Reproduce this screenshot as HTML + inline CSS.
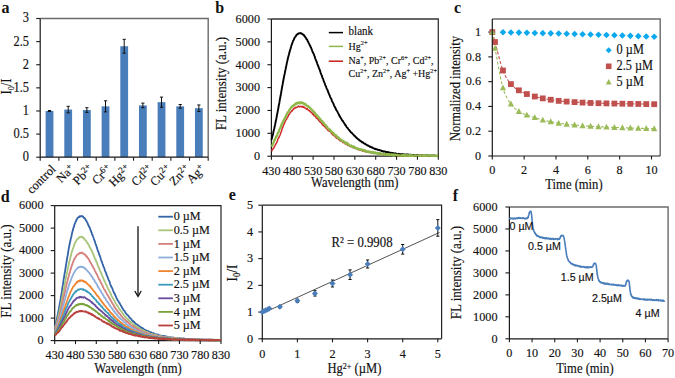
<!DOCTYPE html><html><head><meta charset="utf-8"><style>html,body{margin:0;padding:0;background:#fff;width:675px;height:378px;overflow:hidden}svg{display:block}</style></head><body><svg width="675" height="378" viewBox="0 0 675 378">
<rect width="675" height="378" fill="#fff"/>
<rect x="45.63" y="110.97" width="7.8" height="46.23" fill="#4a7ebb"/>
<line x1="49.53" y1="110.50" x2="49.53" y2="111.43" stroke="#111" stroke-width="1.0" />
<line x1="47.93" y1="110.50" x2="51.13" y2="110.50" stroke="#111" stroke-width="1.0" />
<line x1="47.93" y1="111.43" x2="51.13" y2="111.43" stroke="#111" stroke-width="1.0" />
<rect x="64.30" y="109.58" width="7.8" height="47.62" fill="#4a7ebb"/>
<line x1="68.20" y1="106.34" x2="68.20" y2="112.82" stroke="#111" stroke-width="1.0" />
<line x1="66.60" y1="106.34" x2="69.80" y2="106.34" stroke="#111" stroke-width="1.0" />
<line x1="66.60" y1="112.82" x2="69.80" y2="112.82" stroke="#111" stroke-width="1.0" />
<rect x="82.97" y="110.04" width="7.8" height="47.16" fill="#4a7ebb"/>
<line x1="86.87" y1="107.73" x2="86.87" y2="112.35" stroke="#111" stroke-width="1.0" />
<line x1="85.27" y1="107.73" x2="88.47" y2="107.73" stroke="#111" stroke-width="1.0" />
<line x1="85.27" y1="112.35" x2="88.47" y2="112.35" stroke="#111" stroke-width="1.0" />
<rect x="101.63" y="106.34" width="7.8" height="50.86" fill="#4a7ebb"/>
<line x1="105.53" y1="100.80" x2="105.53" y2="111.89" stroke="#111" stroke-width="1.0" />
<line x1="103.93" y1="100.80" x2="107.13" y2="100.80" stroke="#111" stroke-width="1.0" />
<line x1="103.93" y1="111.89" x2="107.13" y2="111.89" stroke="#111" stroke-width="1.0" />
<rect x="120.30" y="46.24" width="7.8" height="110.96" fill="#4a7ebb"/>
<line x1="124.20" y1="39.31" x2="124.20" y2="53.17" stroke="#111" stroke-width="1.0" />
<line x1="122.60" y1="39.31" x2="125.80" y2="39.31" stroke="#111" stroke-width="1.0" />
<line x1="122.60" y1="53.17" x2="125.80" y2="53.17" stroke="#111" stroke-width="1.0" />
<rect x="138.97" y="105.42" width="7.8" height="51.78" fill="#4a7ebb"/>
<line x1="142.87" y1="103.11" x2="142.87" y2="107.73" stroke="#111" stroke-width="1.0" />
<line x1="141.27" y1="103.11" x2="144.47" y2="103.11" stroke="#111" stroke-width="1.0" />
<line x1="141.27" y1="107.73" x2="144.47" y2="107.73" stroke="#111" stroke-width="1.0" />
<rect x="157.63" y="102.18" width="7.8" height="55.02" fill="#4a7ebb"/>
<line x1="161.53" y1="97.10" x2="161.53" y2="107.27" stroke="#111" stroke-width="1.0" />
<line x1="159.93" y1="97.10" x2="163.13" y2="97.10" stroke="#111" stroke-width="1.0" />
<line x1="159.93" y1="107.27" x2="163.13" y2="107.27" stroke="#111" stroke-width="1.0" />
<rect x="176.30" y="106.34" width="7.8" height="50.86" fill="#4a7ebb"/>
<line x1="180.20" y1="104.49" x2="180.20" y2="108.19" stroke="#111" stroke-width="1.0" />
<line x1="178.60" y1="104.49" x2="181.80" y2="104.49" stroke="#111" stroke-width="1.0" />
<line x1="178.60" y1="108.19" x2="181.80" y2="108.19" stroke="#111" stroke-width="1.0" />
<rect x="194.97" y="108.19" width="7.8" height="49.01" fill="#4a7ebb"/>
<line x1="198.87" y1="104.96" x2="198.87" y2="111.43" stroke="#111" stroke-width="1.0" />
<line x1="197.27" y1="104.96" x2="200.47" y2="104.96" stroke="#111" stroke-width="1.0" />
<line x1="197.27" y1="111.43" x2="200.47" y2="111.43" stroke="#111" stroke-width="1.0" />
<path d="M40.20,18.50 L208.20,18.50 L208.20,157.20" fill="none" stroke="#6b6b6b" stroke-width="1.4"/>
<path d="M40.20,18.50 L40.20,157.20 L208.20,157.20" fill="none" stroke="#1a1a1a" stroke-width="1.2"/>
<line x1="36.20" y1="157.20" x2="40.20" y2="157.20" stroke="#1a1a1a" stroke-width="1.1" />
<g transform="translate(0 161.20) scale(1 1.1) translate(0 -161.20)"><text x="29.00" y="161.20" font-family='"Liberation Serif", serif' font-size="12.4" text-anchor="end" fill="#111" stroke="#111" stroke-width="0.15" >0</text></g>
<line x1="36.20" y1="134.08" x2="40.20" y2="134.08" stroke="#1a1a1a" stroke-width="1.1" />
<g transform="translate(0 138.08) scale(1 1.1) translate(0 -138.08)"><text x="29.00" y="138.08" font-family='"Liberation Serif", serif' font-size="12.4" text-anchor="end" fill="#111" stroke="#111" stroke-width="0.15" >0.5</text></g>
<line x1="36.20" y1="110.97" x2="40.20" y2="110.97" stroke="#1a1a1a" stroke-width="1.1" />
<g transform="translate(0 114.97) scale(1 1.1) translate(0 -114.97)"><text x="29.00" y="114.97" font-family='"Liberation Serif", serif' font-size="12.4" text-anchor="end" fill="#111" stroke="#111" stroke-width="0.15" >1</text></g>
<line x1="36.20" y1="87.85" x2="40.20" y2="87.85" stroke="#1a1a1a" stroke-width="1.1" />
<g transform="translate(0 91.85) scale(1 1.1) translate(0 -91.85)"><text x="29.00" y="91.85" font-family='"Liberation Serif", serif' font-size="12.4" text-anchor="end" fill="#111" stroke="#111" stroke-width="0.15" >1.5</text></g>
<line x1="36.20" y1="64.73" x2="40.20" y2="64.73" stroke="#1a1a1a" stroke-width="1.1" />
<g transform="translate(0 68.73) scale(1 1.1) translate(0 -68.73)"><text x="29.00" y="68.73" font-family='"Liberation Serif", serif' font-size="12.4" text-anchor="end" fill="#111" stroke="#111" stroke-width="0.15" >2</text></g>
<line x1="36.20" y1="41.62" x2="40.20" y2="41.62" stroke="#1a1a1a" stroke-width="1.1" />
<g transform="translate(0 45.62) scale(1 1.1) translate(0 -45.62)"><text x="29.00" y="45.62" font-family='"Liberation Serif", serif' font-size="12.4" text-anchor="end" fill="#111" stroke="#111" stroke-width="0.15" >2.5</text></g>
<line x1="36.20" y1="18.50" x2="40.20" y2="18.50" stroke="#1a1a1a" stroke-width="1.1" />
<g transform="translate(0 22.50) scale(1 1.1) translate(0 -22.50)"><text x="29.00" y="22.50" font-family='"Liberation Serif", serif' font-size="12.4" text-anchor="end" fill="#111" stroke="#111" stroke-width="0.15" >3</text></g>
<line x1="40.20" y1="157.20" x2="40.20" y2="160.70" stroke="#1a1a1a" stroke-width="1.1" />
<line x1="58.87" y1="157.20" x2="58.87" y2="160.70" stroke="#1a1a1a" stroke-width="1.1" />
<line x1="77.53" y1="157.20" x2="77.53" y2="160.70" stroke="#1a1a1a" stroke-width="1.1" />
<line x1="96.20" y1="157.20" x2="96.20" y2="160.70" stroke="#1a1a1a" stroke-width="1.1" />
<line x1="114.87" y1="157.20" x2="114.87" y2="160.70" stroke="#1a1a1a" stroke-width="1.1" />
<line x1="133.53" y1="157.20" x2="133.53" y2="160.70" stroke="#1a1a1a" stroke-width="1.1" />
<line x1="152.20" y1="157.20" x2="152.20" y2="160.70" stroke="#1a1a1a" stroke-width="1.1" />
<line x1="170.87" y1="157.20" x2="170.87" y2="160.70" stroke="#1a1a1a" stroke-width="1.1" />
<line x1="189.53" y1="157.20" x2="189.53" y2="160.70" stroke="#1a1a1a" stroke-width="1.1" />
<line x1="208.20" y1="157.20" x2="208.20" y2="160.70" stroke="#1a1a1a" stroke-width="1.1" />
<text x="56.53" y="169.70" font-family='"Liberation Serif", serif' font-size="12.4" text-anchor="end" fill="#111" stroke="#111" stroke-width="0.15" transform="rotate(-45 56.53 169.70)">control</text>
<text x="75.20" y="169.70" font-family='"Liberation Serif", serif' font-size="12.4" text-anchor="end" fill="#111" stroke="#111" stroke-width="0.15" transform="rotate(-45 75.20 169.70)">Na<tspan font-size="9" dy="-3.8">+</tspan><tspan font-size="1" dy="3.8">&#8203;</tspan></text>
<text x="93.87" y="169.70" font-family='"Liberation Serif", serif' font-size="12.4" text-anchor="end" fill="#111" stroke="#111" stroke-width="0.15" transform="rotate(-45 93.87 169.70)">Pb<tspan font-size="9" dy="-3.8">2+</tspan><tspan font-size="1" dy="3.8">&#8203;</tspan></text>
<text x="112.53" y="169.70" font-family='"Liberation Serif", serif' font-size="12.4" text-anchor="end" fill="#111" stroke="#111" stroke-width="0.15" transform="rotate(-45 112.53 169.70)">Cr<tspan font-size="9" dy="-3.8">6+</tspan><tspan font-size="1" dy="3.8">&#8203;</tspan></text>
<text x="131.20" y="169.70" font-family='"Liberation Serif", serif' font-size="12.4" text-anchor="end" fill="#111" stroke="#111" stroke-width="0.15" transform="rotate(-45 131.20 169.70)">Hg<tspan font-size="9" dy="-3.8">2+</tspan><tspan font-size="1" dy="3.8">&#8203;</tspan></text>
<text x="153.37" y="169.70" font-family='"Liberation Serif", serif' font-size="12.4" text-anchor="end" fill="#111" stroke="#111" stroke-width="0.15" transform="rotate(-45 153.37 169.70)">Cd<tspan font-size="9" dy="-3.8">2+</tspan><tspan font-size="1" dy="3.8">&#8203;</tspan></text>
<text x="172.03" y="169.70" font-family='"Liberation Serif", serif' font-size="12.4" text-anchor="end" fill="#111" stroke="#111" stroke-width="0.15" transform="rotate(-45 172.03 169.70)">Cu<tspan font-size="9" dy="-3.8">2+</tspan><tspan font-size="1" dy="3.8">&#8203;</tspan></text>
<text x="190.70" y="169.70" font-family='"Liberation Serif", serif' font-size="12.4" text-anchor="end" fill="#111" stroke="#111" stroke-width="0.15" transform="rotate(-45 190.70 169.70)">Zn<tspan font-size="9" dy="-3.8">2+</tspan><tspan font-size="1" dy="3.8">&#8203;</tspan></text>
<text x="205.87" y="169.70" font-family='"Liberation Serif", serif' font-size="12.4" text-anchor="end" fill="#111" stroke="#111" stroke-width="0.15" transform="rotate(-45 205.87 169.70)">Ag<tspan font-size="9" dy="-3.8">+</tspan><tspan font-size="1" dy="3.8">&#8203;</tspan></text>
<g transform="translate(11.20 0) scale(1.1 1) translate(-11.20 0)"><text x="11.20" y="86.50" font-family='"Liberation Serif", serif' font-size="12.6" text-anchor="middle" fill="#111" stroke="#111" stroke-width="0.15" transform="rotate(-90 11.2 86.5)">I<tspan font-size="8" dy="2.5">0</tspan><tspan dy="-2.5">/I</tspan></text></g>
<text x="1.60" y="12.60" font-family='"Liberation Serif", serif' font-size="16" text-anchor="start" fill="#111" font-weight="bold">a</text>
<path d="M271.40,19.00 L438.30,19.00 L438.30,156.20" fill="none" stroke="#333" stroke-width="1.3"/>
<path d="M271.40,19.00 L271.40,156.20 L438.30,156.20" fill="none" stroke="#1a1a1a" stroke-width="1.2"/>
<g>
<path d="M271.40,140.03 L271.82,138.48 L272.23,136.78 L272.65,135.61 L273.07,133.78 L273.49,131.55 L273.90,129.88 L274.32,128.17 L274.74,126.27 L275.16,124.39 L275.57,122.28 L275.99,120.17 L276.41,118.39 L276.82,115.86 L277.24,113.79 L277.66,111.59 L278.08,109.57 L278.49,107.28 L278.91,104.71 L279.33,102.93 L279.75,100.05 L280.16,97.97 L280.58,95.74 L281.00,93.53 L281.41,91.06 L281.83,88.69 L282.25,86.28 L282.67,84.14 L283.08,81.76 L283.50,79.50 L283.92,77.43 L284.33,75.17 L284.75,73.41 L285.17,70.92 L285.59,69.38 L286.00,67.14 L286.42,65.25 L286.84,62.92 L287.26,61.22 L287.67,59.33 L288.09,57.44 L288.51,55.98 L288.92,54.46 L289.34,52.66 L289.76,51.39 L290.18,49.63 L290.59,48.60 L291.01,47.06 L291.43,45.37 L291.85,44.44 L292.26,43.15 L292.68,42.11 L293.10,40.81 L293.51,40.19 L293.93,39.42 L294.35,38.08 L294.77,37.60 L295.18,36.98 L295.60,36.61 L296.02,35.60 L296.44,35.09 L296.85,34.60 L297.27,34.18 L297.69,34.32 L298.10,33.59 L298.52,33.67 L298.94,33.27 L299.36,33.32 L299.77,33.27 L300.19,33.32 L300.61,33.06 L301.02,33.31 L301.44,33.64 L301.86,33.51 L302.28,34.19 L302.69,34.15 L303.11,34.75 L303.53,34.79 L303.95,35.21 L304.36,36.04 L304.78,36.18 L305.20,37.18 L305.61,37.56 L306.03,37.99 L306.45,39.08 L306.87,39.34 L307.28,40.06 L307.70,41.27 L308.12,41.60 L308.54,42.71 L308.95,43.49 L309.37,44.00 L309.79,45.51 L310.20,45.81 L310.62,47.04 L311.04,47.64 L311.46,48.72 L311.87,49.76 L312.29,51.01 L312.71,52.06 L313.12,52.83 L313.54,53.71 L313.96,54.69 L314.38,55.74 L314.79,56.82 L315.21,58.50 L315.63,59.48 L316.05,60.23 L316.46,61.50 L316.88,62.46 L317.30,63.81 L317.71,64.77 L318.13,65.97 L318.55,66.96 L318.97,68.32 L319.38,68.92 L319.80,70.11 L320.22,71.36 L320.64,72.87 L321.05,73.83 L321.47,74.84 L321.89,75.70 L322.30,77.30 L322.72,78.36 L323.14,78.87 L323.56,80.57 L323.97,81.50 L324.39,82.56 L324.81,83.47 L325.23,84.81 L325.64,85.92 L326.06,86.57 L326.48,88.05 L326.89,88.89 L327.31,89.64 L327.73,90.65 L328.15,91.92 L328.56,92.88 L328.98,93.93 L329.40,94.90 L329.81,95.82 L330.23,97.11 L330.65,97.83 L331.07,98.43 L331.48,99.40 L331.90,100.76 L332.32,101.78 L332.74,102.32 L333.15,103.13 L333.57,104.06 L333.99,105.37 L334.40,106.31 L334.82,106.64 L335.24,107.95 L335.66,108.25 L336.07,109.66 L336.49,110.41 L336.91,110.83 L337.33,111.44 L337.74,112.32 L338.16,113.12 L338.58,113.92 L338.99,114.64 L339.41,115.86 L339.83,116.24 L340.25,117.18 L340.66,117.89 L341.08,118.24 L341.50,119.19 L341.92,119.88 L342.33,120.73 L342.75,120.78 L343.17,121.58 L343.58,122.26 L344.00,122.90 L344.42,123.65 L344.84,123.97 L345.25,125.12 L345.67,125.15 L346.09,126.05 L346.50,126.80 L346.92,127.35 L347.34,127.82 L347.76,128.11 L348.17,128.91 L348.59,129.35 L349.01,129.75 L349.43,130.51 L349.84,130.83 L350.26,131.53 L350.68,131.91 L351.09,132.50 L351.51,132.74 L351.93,133.20 L352.35,133.41 L352.76,134.08 L353.18,134.26 L353.60,134.77 L354.02,135.37 L354.43,135.94 L354.85,136.04 L355.27,136.31 L355.68,137.15 L356.10,137.54 L356.52,137.45 L356.94,138.23 L357.35,138.55 L357.77,138.62 L358.19,139.41 L358.61,139.61 L359.02,139.75 L359.44,140.47 L359.86,140.50 L360.27,140.97 L360.69,140.77 L361.11,141.35 L361.53,141.84 L361.94,142.24 L362.36,141.98 L362.78,142.24 L363.19,142.63 L363.61,143.23 L364.03,143.25 L364.45,143.78 L364.86,143.56 L365.28,144.10 L365.70,144.38 L366.12,144.46 L366.53,144.80 L366.95,144.98 L367.37,145.53 L367.78,145.42 L368.20,145.45 L368.62,146.08 L369.04,146.11 L369.45,146.28 L369.87,146.71 L370.29,147.08 L370.71,146.80 L371.12,147.00 L371.54,147.51 L371.96,147.28 L372.37,147.71 L372.79,147.70 L373.21,148.17 L373.63,148.20 L374.04,148.49 L374.46,148.82 L374.88,148.99 L375.30,148.67 L375.71,149.23 L376.13,149.22 L376.55,149.10 L376.96,149.39 L377.38,149.67 L377.80,149.71 L378.22,150.07 L378.63,149.81 L379.05,149.92 L379.47,149.95 L379.88,150.34 L380.30,150.41 L380.72,150.49 L381.14,150.49 L381.55,150.78 L381.97,151.30 L382.39,150.96 L382.81,151.16 L383.22,151.49 L383.64,151.70 L384.06,151.38 L384.47,151.54 L384.89,151.41 L385.31,151.57 L385.73,152.17 L386.14,152.14 L386.56,152.02 L386.98,152.25 L387.40,152.08 L387.81,152.05 L388.23,152.09 L388.65,152.30 L389.06,152.33 L389.48,152.37 L389.90,152.52 L390.32,153.03 L390.73,153.13 L391.15,153.14 L391.57,152.84 L391.99,153.10 L392.40,153.24 L392.82,153.00 L393.24,153.46 L393.65,153.15 L394.07,153.45 L394.49,153.35 L394.91,153.82 L395.32,153.34 L395.74,153.62 L396.16,153.84 L396.57,153.76 L396.99,154.08 L397.41,154.03 L397.83,154.15 L398.24,153.94 L398.66,153.81 L399.08,154.06 L399.50,154.37 L399.91,154.28 L400.33,154.15 L400.75,154.09 L401.16,154.48 L401.58,154.10 L402.00,154.10 L402.42,154.04 L402.83,154.55 L403.25,154.20 L403.67,154.56 L404.09,154.37 L404.50,154.46 L404.92,154.88 L405.34,154.82 L405.75,154.93 L406.17,154.39 L406.59,154.37 L407.01,154.52 L407.42,154.45 L407.84,154.92 L408.26,154.51 L408.68,154.99 L409.09,155.14 L409.51,155.01 L409.93,154.63 L410.34,154.79 L410.76,154.75 L411.18,154.71 L411.60,155.09 L412.01,154.86 L412.43,155.24 L412.85,154.95 L413.26,154.98 L413.68,155.16 L414.10,155.02 L414.52,155.21 L414.93,155.09 L415.35,155.41 L415.77,155.15 L416.19,155.02 L416.60,155.02 L417.02,155.42 L417.44,155.62 L417.85,155.03 L418.27,155.32 L418.69,155.67 L419.11,155.58 L419.52,155.65 L419.94,155.37 L420.36,155.63 L420.78,155.65 L421.19,155.53 L421.61,155.42 L422.03,155.48 L422.44,155.74 L422.86,155.31 L423.28,155.72 L423.70,155.76 L424.11,155.86 L424.53,155.78 L424.95,155.52 L425.37,155.43 L425.78,155.73 L426.20,155.68 L426.62,155.42 L427.03,155.44 L427.45,155.65 L427.87,155.53 L428.29,155.80 L428.70,155.94 L429.12,155.55 L429.54,155.62 L429.96,155.93 L430.37,155.40 L430.79,155.80 L431.21,155.96 L431.62,155.48 L432.04,155.52 L432.46,155.71 L432.88,155.77 L433.29,155.50 L433.71,155.50 L434.13,155.63 L434.54,155.49 L434.96,155.73 L435.38,156.06 L435.80,155.70 L436.21,155.84 L436.63,155.84 L437.05,156.01 L437.47,155.84 L437.88,155.72 L438.30,156.08" fill="none" stroke="#000" stroke-width="1.9" stroke-linejoin="round"/>
<path d="M271.40,151.20 L271.82,150.98 L272.23,149.82 L272.65,148.93 L273.07,149.02 L273.49,148.45 L273.90,147.54 L274.32,147.04 L274.74,146.39 L275.16,144.95 L275.57,144.84 L275.99,143.44 L276.41,143.37 L276.82,142.03 L277.24,141.69 L277.66,139.95 L278.08,138.76 L278.49,137.79 L278.91,137.71 L279.33,136.42 L279.75,135.83 L280.16,134.73 L280.58,133.49 L281.00,132.22 L281.41,131.56 L281.83,129.80 L282.25,128.36 L282.67,128.01 L283.08,126.30 L283.50,125.46 L283.92,124.28 L284.33,123.84 L284.75,122.43 L285.17,121.28 L285.59,120.72 L286.00,119.73 L286.42,119.39 L286.84,118.88 L287.26,117.54 L287.67,116.95 L288.09,116.46 L288.51,115.25 L288.92,114.40 L289.34,114.48 L289.76,113.75 L290.18,112.67 L290.59,112.34 L291.01,111.84 L291.43,111.41 L291.85,110.66 L292.26,110.89 L292.68,110.13 L293.10,109.11 L293.51,109.01 L293.93,108.33 L294.35,108.60 L294.77,108.37 L295.18,107.35 L295.60,107.82 L296.02,107.62 L296.44,107.45 L296.85,107.46 L297.27,107.16 L297.69,106.65 L298.10,106.18 L298.52,106.12 L298.94,106.66 L299.36,106.86 L299.77,106.37 L300.19,106.30 L300.61,106.68 L301.02,106.83 L301.44,106.86 L301.86,106.37 L302.28,107.08 L302.69,106.50 L303.11,107.29 L303.53,106.67 L303.95,106.75 L304.36,107.60 L304.78,107.80 L305.20,108.15 L305.61,108.54 L306.03,108.56 L306.45,109.14 L306.87,108.43 L307.28,108.68 L307.70,109.70 L308.12,109.86 L308.54,110.38 L308.95,110.68 L309.37,110.53 L309.79,111.25 L310.20,111.64 L310.62,111.57 L311.04,112.22 L311.46,112.32 L311.87,112.58 L312.29,113.90 L312.71,114.26 L313.12,113.79 L313.54,114.33 L313.96,115.74 L314.38,115.27 L314.79,115.83 L315.21,116.17 L315.63,116.87 L316.05,117.76 L316.46,118.00 L316.88,118.39 L317.30,118.86 L317.71,118.60 L318.13,119.18 L318.55,120.29 L318.97,120.76 L319.38,120.95 L319.80,121.59 L320.22,122.11 L320.64,122.36 L321.05,122.72 L321.47,122.65 L321.89,123.73 L322.30,124.60 L322.72,124.16 L323.14,125.50 L323.56,125.57 L323.97,126.03 L324.39,126.26 L324.81,126.83 L325.23,126.95 L325.64,127.85 L326.06,128.16 L326.48,128.30 L326.89,128.79 L327.31,129.63 L327.73,129.59 L328.15,130.61 L328.56,130.79 L328.98,130.90 L329.40,131.31 L329.81,131.37 L330.23,131.67 L330.65,132.32 L331.07,132.48 L331.48,133.32 L331.90,133.91 L332.32,133.67 L332.74,134.89 L333.15,134.95 L333.57,134.76 L333.99,135.75 L334.40,135.83 L334.82,136.05 L335.24,136.61 L335.66,136.33 L336.07,137.69 L336.49,137.25 L336.91,138.36 L337.33,138.21 L337.74,138.05 L338.16,139.01 L338.58,139.03 L338.99,139.77 L339.41,140.20 L339.83,140.57 L340.25,140.29 L340.66,141.08 L341.08,140.92 L341.50,141.12 L341.92,140.89 L342.33,141.68 L342.75,142.21 L343.17,142.66 L343.58,142.36 L344.00,142.45 L344.42,142.60 L344.84,143.59 L345.25,143.57 L345.67,144.08 L346.09,144.29 L346.50,143.70 L346.92,143.95 L347.34,144.98 L347.76,145.40 L348.17,145.22 L348.59,144.92 L349.01,145.62 L349.43,146.08 L349.84,146.18 L350.26,146.29 L350.68,146.63 L351.09,146.42 L351.51,146.46 L351.93,146.68 L352.35,147.42 L352.76,147.35 L353.18,147.30 L353.60,147.65 L354.02,147.42 L354.43,147.93 L354.85,148.34 L355.27,148.03 L355.68,148.03 L356.10,148.73 L356.52,148.72 L356.94,148.60 L357.35,148.73 L357.77,149.59 L358.19,148.88 L358.61,149.37 L359.02,149.62 L359.44,149.59 L359.86,150.16 L360.27,149.65 L360.69,150.30 L361.11,149.76 L361.53,149.76 L361.94,150.15 L362.36,151.11 L362.78,150.40 L363.19,150.80 L363.61,151.17 L364.03,150.93 L364.45,151.55 L364.86,151.41 L365.28,151.68 L365.70,151.75 L366.12,151.42 L366.53,152.11 L366.95,152.04 L367.37,152.17 L367.78,151.83 L368.20,151.54 L368.62,152.17 L369.04,152.39 L369.45,151.72 L369.87,151.79 L370.29,152.46 L370.71,151.93 L371.12,152.46 L371.54,152.96 L371.96,152.13 L372.37,152.49 L372.79,153.29 L373.21,152.61 L373.63,153.02 L374.04,153.23 L374.46,153.48 L374.88,153.43 L375.30,153.37 L375.71,153.01 L376.13,153.14 L376.55,153.06 L376.96,153.42 L377.38,153.65 L377.80,153.96 L378.22,153.96 L378.63,153.68 L379.05,153.34 L379.47,153.94 L379.88,153.78 L380.30,153.41 L380.72,154.33 L381.14,153.71 L381.55,153.76 L381.97,154.03 L382.39,154.00 L382.81,154.58 L383.22,153.77 L383.64,154.81 L384.06,153.96 L384.47,154.38 L384.89,154.24 L385.31,154.18 L385.73,154.69 L386.14,154.86 L386.56,154.50 L386.98,154.01 L387.40,154.24 L387.81,154.27 L388.23,154.46 L388.65,155.00 L389.06,154.37 L389.48,155.06 L389.90,155.24 L390.32,154.72 L390.73,154.73 L391.15,155.41 L391.57,155.08 L391.99,154.84 L392.40,154.65 L392.82,154.79 L393.24,154.97 L393.65,155.24 L394.07,154.71 L394.49,155.53 L394.91,155.00 L395.32,155.19 L395.74,154.57 L396.16,155.32 L396.57,155.62 L396.99,155.23 L397.41,154.74 L397.83,155.81 L398.24,155.74 L398.66,154.87 L399.08,155.76 L399.50,155.55 L399.91,155.57 L400.33,155.78 L400.75,155.60 L401.16,155.60 L401.58,155.77 L402.00,155.15 L402.42,155.14 L402.83,155.31 L403.25,155.28 L403.67,154.96 L404.09,155.76 L404.50,155.03 L404.92,155.29 L405.34,155.67 L405.75,155.45 L406.17,155.73 L406.59,155.87 L407.01,155.88 L407.42,155.44 L407.84,155.10 L408.26,155.95 L408.68,156.00 L409.09,155.57 L409.51,155.97 L409.93,156.03 L410.34,155.69 L410.76,155.27 L411.18,155.89 L411.60,155.73 L412.01,155.45 L412.43,155.49 L412.85,156.01 L413.26,155.80 L413.68,155.61 L414.10,155.71 L414.52,155.82 L414.93,155.80 L415.35,155.91 L415.77,155.65 L416.19,155.35 L416.60,155.38 L417.02,155.59 L417.44,155.71 L417.85,155.40 L418.27,155.61 L418.69,155.66 L419.11,155.41 L419.52,156.01 L419.94,155.51 L420.36,155.89 L420.78,155.41 L421.19,155.61 L421.61,155.92 L422.03,155.38 L422.44,155.64 L422.86,156.01 L423.28,155.44 L423.70,155.48 L424.11,156.01 L424.53,155.82 L424.95,155.85 L425.37,155.67 L425.78,155.47 L426.20,155.61 L426.62,156.02 L427.03,155.60 L427.45,155.52 L427.87,155.92 L428.29,156.08 L428.70,155.54 L429.12,155.61 L429.54,155.63 L429.96,155.77 L430.37,155.64 L430.79,155.94 L431.21,155.81 L431.62,156.06 L432.04,155.94 L432.46,155.61 L432.88,155.95 L433.29,155.96 L433.71,155.91 L434.13,155.97 L434.54,155.70 L434.96,155.71 L435.38,156.07 L435.80,155.67 L436.21,155.92 L436.63,155.67 L437.05,155.93 L437.47,156.13 L437.88,155.87 L438.30,155.88" fill="none" stroke="#d02a2a" stroke-width="1.5" stroke-linejoin="round"/>
<path d="M271.40,146.41 L271.82,146.03 L272.23,145.38 L272.65,144.56 L273.07,143.69 L273.49,142.58 L273.90,141.41 L274.32,140.43 L274.74,140.26 L275.16,138.97 L275.57,138.10 L275.99,136.91 L276.41,136.15 L276.82,136.14 L277.24,135.20 L277.66,133.42 L278.08,132.68 L278.49,132.25 L278.91,131.50 L279.33,129.52 L279.75,128.84 L280.16,127.99 L280.58,126.96 L281.00,126.60 L281.41,124.78 L281.83,124.29 L282.25,123.07 L282.67,122.54 L283.08,122.08 L283.50,120.44 L283.92,120.16 L284.33,119.44 L284.75,118.28 L285.17,117.36 L285.59,116.79 L286.00,115.49 L286.42,115.25 L286.84,113.78 L287.26,113.43 L287.67,112.31 L288.09,112.47 L288.51,111.65 L288.92,110.99 L289.34,110.05 L289.76,109.44 L290.18,108.92 L290.59,108.48 L291.01,107.60 L291.43,107.16 L291.85,106.61 L292.26,106.58 L292.68,105.90 L293.10,106.02 L293.51,105.30 L293.93,105.60 L294.35,105.05 L294.77,104.46 L295.18,104.38 L295.60,103.53 L296.02,104.23 L296.44,103.48 L296.85,102.96 L297.27,103.37 L297.69,102.91 L298.10,102.49 L298.52,103.00 L298.94,102.69 L299.36,102.67 L299.77,103.26 L300.19,103.09 L300.61,102.32 L301.02,103.07 L301.44,102.68 L301.86,102.64 L302.28,102.47 L302.69,103.42 L303.11,102.91 L303.53,103.40 L303.95,103.76 L304.36,104.39 L304.78,103.72 L305.20,104.12 L305.61,104.06 L306.03,105.10 L306.45,105.53 L306.87,105.93 L307.28,105.90 L307.70,105.81 L308.12,106.05 L308.54,107.06 L308.95,107.23 L309.37,107.09 L309.79,107.42 L310.20,108.46 L310.62,108.42 L311.04,109.26 L311.46,109.40 L311.87,109.51 L312.29,110.21 L312.71,111.17 L313.12,111.30 L313.54,111.28 L313.96,111.75 L314.38,113.01 L314.79,112.71 L315.21,113.26 L315.63,114.37 L316.05,114.84 L316.46,114.90 L316.88,115.63 L317.30,115.48 L317.71,116.56 L318.13,116.98 L318.55,117.38 L318.97,117.33 L319.38,118.07 L319.80,119.20 L320.22,118.97 L320.64,120.15 L321.05,120.28 L321.47,120.69 L321.89,121.10 L322.30,121.20 L322.72,122.15 L323.14,122.53 L323.56,122.78 L323.97,123.32 L324.39,124.03 L324.81,124.46 L325.23,125.03 L325.64,125.03 L326.06,126.01 L326.48,126.57 L326.89,127.27 L327.31,127.03 L327.73,128.26 L328.15,128.78 L328.56,128.67 L328.98,129.18 L329.40,129.38 L329.81,129.59 L330.23,129.92 L330.65,131.27 L331.07,131.69 L331.48,131.30 L331.90,131.97 L332.32,132.31 L332.74,132.52 L333.15,133.11 L333.57,133.79 L333.99,133.41 L334.40,134.92 L334.82,135.04 L335.24,135.43 L335.66,135.15 L336.07,135.27 L336.49,135.71 L336.91,136.85 L337.33,136.96 L337.74,137.72 L338.16,137.47 L338.58,137.49 L338.99,138.26 L339.41,138.69 L339.83,138.84 L340.25,139.45 L340.66,139.72 L341.08,140.27 L341.50,139.93 L341.92,140.53 L342.33,141.02 L342.75,141.48 L343.17,140.90 L343.58,141.09 L344.00,141.71 L344.42,141.81 L344.84,142.39 L345.25,143.03 L345.67,142.86 L346.09,142.53 L346.50,143.04 L346.92,143.87 L347.34,143.28 L347.76,144.47 L348.17,143.82 L348.59,144.60 L349.01,145.16 L349.43,145.04 L349.84,145.63 L350.26,145.91 L350.68,145.88 L351.09,145.42 L351.51,146.02 L351.93,146.43 L352.35,146.83 L352.76,146.47 L353.18,146.26 L353.60,147.44 L354.02,147.67 L354.43,147.07 L354.85,147.33 L355.27,147.29 L355.68,147.96 L356.10,148.38 L356.52,148.49 L356.94,148.52 L357.35,148.42 L357.77,149.02 L358.19,148.56 L358.61,148.73 L359.02,149.19 L359.44,149.08 L359.86,149.32 L360.27,149.28 L360.69,149.60 L361.11,149.80 L361.53,149.42 L361.94,149.66 L362.36,149.91 L362.78,149.76 L363.19,150.76 L363.61,150.64 L364.03,150.51 L364.45,150.80 L364.86,150.28 L365.28,150.62 L365.70,150.81 L366.12,150.88 L366.53,151.74 L366.95,151.24 L367.37,151.50 L367.78,151.87 L368.20,151.41 L368.62,152.13 L369.04,151.98 L369.45,151.69 L369.87,151.75 L370.29,152.34 L370.71,152.67 L371.12,152.63 L371.54,152.38 L371.96,152.30 L372.37,152.02 L372.79,152.98 L373.21,152.13 L373.63,153.18 L374.04,152.57 L374.46,153.02 L374.88,153.11 L375.30,152.50 L375.71,152.93 L376.13,153.36 L376.55,153.03 L376.96,153.28 L377.38,153.67 L377.80,152.84 L378.22,153.73 L378.63,153.98 L379.05,153.47 L379.47,153.47 L379.88,153.27 L380.30,153.24 L380.72,154.19 L381.14,154.22 L381.55,154.33 L381.97,154.36 L382.39,154.26 L382.81,154.08 L383.22,154.16 L383.64,154.29 L384.06,153.73 L384.47,154.56 L384.89,154.44 L385.31,153.91 L385.73,154.51 L386.14,153.93 L386.56,154.57 L386.98,154.74 L387.40,154.89 L387.81,154.36 L388.23,154.54 L388.65,154.93 L389.06,154.15 L389.48,154.93 L389.90,155.01 L390.32,154.56 L390.73,154.65 L391.15,154.22 L391.57,154.98 L391.99,154.49 L392.40,155.34 L392.82,155.00 L393.24,154.58 L393.65,155.46 L394.07,154.51 L394.49,155.22 L394.91,155.08 L395.32,154.63 L395.74,154.83 L396.16,154.88 L396.57,155.13 L396.99,155.36 L397.41,154.69 L397.83,155.44 L398.24,155.19 L398.66,155.41 L399.08,155.43 L399.50,155.47 L399.91,155.48 L400.33,155.67 L400.75,155.74 L401.16,155.31 L401.58,155.31 L402.00,155.59 L402.42,154.94 L402.83,155.50 L403.25,155.34 L403.67,154.87 L404.09,155.87 L404.50,155.50 L404.92,155.74 L405.34,155.16 L405.75,155.61 L406.17,155.68 L406.59,155.64 L407.01,155.16 L407.42,155.63 L407.84,155.36 L408.26,155.76 L408.68,155.60 L409.09,155.44 L409.51,155.17 L409.93,155.93 L410.34,155.85 L410.76,155.23 L411.18,155.44 L411.60,155.16 L412.01,155.79 L412.43,155.71 L412.85,155.85 L413.26,155.56 L413.68,155.62 L414.10,155.63 L414.52,155.55 L414.93,155.38 L415.35,155.45 L415.77,155.49 L416.19,155.73 L416.60,155.77 L417.02,155.65 L417.44,155.55 L417.85,155.80 L418.27,155.46 L418.69,155.82 L419.11,155.74 L419.52,155.39 L419.94,155.69 L420.36,155.86 L420.78,155.62 L421.19,155.70 L421.61,155.61 L422.03,155.53 L422.44,155.79 L422.86,155.62 L423.28,155.69 L423.70,155.87 L424.11,155.52 L424.53,155.87 L424.95,155.69 L425.37,155.78 L425.78,155.85 L426.20,155.64 L426.62,155.65 L427.03,155.43 L427.45,155.47 L427.87,155.75 L428.29,155.49 L428.70,155.52 L429.12,155.43 L429.54,155.60 L429.96,155.50 L430.37,155.59 L430.79,155.67 L431.21,155.78 L431.62,155.51 L432.04,155.68 L432.46,155.80 L432.88,155.67 L433.29,155.57 L433.71,155.87 L434.13,155.72 L434.54,155.81 L434.96,155.61 L435.38,155.57 L435.80,155.73 L436.21,155.72 L436.63,155.83 L437.05,155.68 L437.47,155.51 L437.88,155.68 L438.30,155.58" fill="none" stroke="#8fb84a" stroke-width="2.3" stroke-linejoin="round"/>
<line x1="267.40" y1="156.20" x2="271.40" y2="156.20" stroke="#1a1a1a" stroke-width="1.1" />
<g transform="translate(0 160.00) scale(1 1.1) translate(0 -160.00)"><text x="260.00" y="160.00" font-family='"Liberation Serif", serif' font-size="12.2" text-anchor="end" fill="#111" stroke="#111" stroke-width="0.15" >0</text></g>
<line x1="267.40" y1="133.33" x2="271.40" y2="133.33" stroke="#1a1a1a" stroke-width="1.1" />
<g transform="translate(0 137.13) scale(1 1.1) translate(0 -137.13)"><text x="260.00" y="137.13" font-family='"Liberation Serif", serif' font-size="12.2" text-anchor="end" fill="#111" stroke="#111" stroke-width="0.15" >1000</text></g>
<line x1="267.40" y1="110.47" x2="271.40" y2="110.47" stroke="#1a1a1a" stroke-width="1.1" />
<g transform="translate(0 114.27) scale(1 1.1) translate(0 -114.27)"><text x="260.00" y="114.27" font-family='"Liberation Serif", serif' font-size="12.2" text-anchor="end" fill="#111" stroke="#111" stroke-width="0.15" >2000</text></g>
<line x1="267.40" y1="87.60" x2="271.40" y2="87.60" stroke="#1a1a1a" stroke-width="1.1" />
<g transform="translate(0 91.40) scale(1 1.1) translate(0 -91.40)"><text x="260.00" y="91.40" font-family='"Liberation Serif", serif' font-size="12.2" text-anchor="end" fill="#111" stroke="#111" stroke-width="0.15" >3000</text></g>
<line x1="267.40" y1="64.73" x2="271.40" y2="64.73" stroke="#1a1a1a" stroke-width="1.1" />
<g transform="translate(0 68.53) scale(1 1.1) translate(0 -68.53)"><text x="260.00" y="68.53" font-family='"Liberation Serif", serif' font-size="12.2" text-anchor="end" fill="#111" stroke="#111" stroke-width="0.15" >4000</text></g>
<line x1="267.40" y1="41.87" x2="271.40" y2="41.87" stroke="#1a1a1a" stroke-width="1.1" />
<g transform="translate(0 45.67) scale(1 1.1) translate(0 -45.67)"><text x="260.00" y="45.67" font-family='"Liberation Serif", serif' font-size="12.2" text-anchor="end" fill="#111" stroke="#111" stroke-width="0.15" >5000</text></g>
<line x1="267.40" y1="19.00" x2="271.40" y2="19.00" stroke="#1a1a1a" stroke-width="1.1" />
<g transform="translate(0 22.80) scale(1 1.1) translate(0 -22.80)"><text x="260.00" y="22.80" font-family='"Liberation Serif", serif' font-size="12.2" text-anchor="end" fill="#111" stroke="#111" stroke-width="0.15" >6000</text></g>
<line x1="271.40" y1="156.20" x2="271.40" y2="159.70" stroke="#1a1a1a" stroke-width="1.1" />
<g transform="translate(0 175.00) scale(1 1.1) translate(0 -175.00)"><text x="271.40" y="175.00" font-family='"Liberation Serif", serif' font-size="12.2" text-anchor="middle" fill="#111" stroke="#111" stroke-width="0.15" >430</text></g>
<line x1="292.26" y1="156.20" x2="292.26" y2="159.70" stroke="#1a1a1a" stroke-width="1.1" />
<g transform="translate(0 175.00) scale(1 1.1) translate(0 -175.00)"><text x="292.26" y="175.00" font-family='"Liberation Serif", serif' font-size="12.2" text-anchor="middle" fill="#111" stroke="#111" stroke-width="0.15" >480</text></g>
<line x1="313.12" y1="156.20" x2="313.12" y2="159.70" stroke="#1a1a1a" stroke-width="1.1" />
<g transform="translate(0 175.00) scale(1 1.1) translate(0 -175.00)"><text x="313.12" y="175.00" font-family='"Liberation Serif", serif' font-size="12.2" text-anchor="middle" fill="#111" stroke="#111" stroke-width="0.15" >530</text></g>
<line x1="333.99" y1="156.20" x2="333.99" y2="159.70" stroke="#1a1a1a" stroke-width="1.1" />
<g transform="translate(0 175.00) scale(1 1.1) translate(0 -175.00)"><text x="333.99" y="175.00" font-family='"Liberation Serif", serif' font-size="12.2" text-anchor="middle" fill="#111" stroke="#111" stroke-width="0.15" >580</text></g>
<line x1="354.85" y1="156.20" x2="354.85" y2="159.70" stroke="#1a1a1a" stroke-width="1.1" />
<g transform="translate(0 175.00) scale(1 1.1) translate(0 -175.00)"><text x="354.85" y="175.00" font-family='"Liberation Serif", serif' font-size="12.2" text-anchor="middle" fill="#111" stroke="#111" stroke-width="0.15" >630</text></g>
<line x1="375.71" y1="156.20" x2="375.71" y2="159.70" stroke="#1a1a1a" stroke-width="1.1" />
<g transform="translate(0 175.00) scale(1 1.1) translate(0 -175.00)"><text x="375.71" y="175.00" font-family='"Liberation Serif", serif' font-size="12.2" text-anchor="middle" fill="#111" stroke="#111" stroke-width="0.15" >680</text></g>
<line x1="396.57" y1="156.20" x2="396.57" y2="159.70" stroke="#1a1a1a" stroke-width="1.1" />
<g transform="translate(0 175.00) scale(1 1.1) translate(0 -175.00)"><text x="396.57" y="175.00" font-family='"Liberation Serif", serif' font-size="12.2" text-anchor="middle" fill="#111" stroke="#111" stroke-width="0.15" >730</text></g>
<line x1="417.44" y1="156.20" x2="417.44" y2="159.70" stroke="#1a1a1a" stroke-width="1.1" />
<g transform="translate(0 175.00) scale(1 1.1) translate(0 -175.00)"><text x="417.44" y="175.00" font-family='"Liberation Serif", serif' font-size="12.2" text-anchor="middle" fill="#111" stroke="#111" stroke-width="0.15" >780</text></g>
<line x1="438.30" y1="156.20" x2="438.30" y2="159.70" stroke="#1a1a1a" stroke-width="1.1" />
<g transform="translate(0 175.00) scale(1 1.1) translate(0 -175.00)"><text x="438.30" y="175.00" font-family='"Liberation Serif", serif' font-size="12.2" text-anchor="middle" fill="#111" stroke="#111" stroke-width="0.15" >830</text></g>
<g transform="translate(0 187.00) scale(1 1.1) translate(0 -187.00)"><text x="354.80" y="187.00" font-family='"Liberation Serif", serif' font-size="12.6" text-anchor="middle" fill="#111" stroke="#111" stroke-width="0.15" >Wavelength (nm)</text></g>
<g transform="translate(226.20 0) scale(1.1 1) translate(-226.20 0)"><text x="226.20" y="83.50" font-family='"Liberation Serif", serif' font-size="13" text-anchor="middle" fill="#111" stroke="#111" stroke-width="0.15" transform="rotate(-90 226.2 83.5)">FL intensity (a.u.)</text></g>
<line x1="328.80" y1="32.60" x2="343.00" y2="32.60" stroke="#000" stroke-width="1.5" />
<g transform="translate(0 35.20) scale(1 1.1) translate(0 -35.20)"><text x="348.60" y="35.20" font-family='"Liberation Serif", serif' font-size="11" text-anchor="start" fill="#111" stroke="#111" stroke-width="0.15" >blank</text></g>
<line x1="328.80" y1="46.40" x2="343.00" y2="46.40" stroke="#8fb84a" stroke-width="1.5" />
<g transform="translate(0 49.60) scale(1 1.1) translate(0 -49.60)"><text x="348.60" y="49.60" font-family='"Liberation Serif", serif' font-size="10" text-anchor="start" fill="#111" stroke="#111" stroke-width="0.15" >Hg<tspan font-size="6.3" dy="-3.8">2+</tspan><tspan font-size="1" dy="3.8">&#8203;</tspan></text></g>
<line x1="328.80" y1="61.20" x2="343.00" y2="61.20" stroke="#c81e1e" stroke-width="1.5" />
<g transform="translate(0 64.40) scale(1 1.1) translate(0 -64.40)"><text x="348.60" y="64.40" font-family='"Liberation Serif", serif' font-size="10" text-anchor="start" fill="#111" stroke="#111" stroke-width="0.15" >Na<tspan font-size="6.3" dy="-3.8">+</tspan><tspan font-size="1" dy="3.8">&#8203;</tspan>, Pb<tspan font-size="6.3" dy="-3.8">2+</tspan><tspan font-size="1" dy="3.8">&#8203;</tspan>, Cr<tspan font-size="6.3" dy="-3.8">6+</tspan><tspan font-size="1" dy="3.8">&#8203;</tspan>, Cd<tspan font-size="6.3" dy="-3.8">2+</tspan><tspan font-size="1" dy="3.8">&#8203;</tspan>,</text></g>
<g transform="translate(0 77.20) scale(1 1.1) translate(0 -77.20)"><text x="348.60" y="77.20" font-family='"Liberation Serif", serif' font-size="10" text-anchor="start" fill="#111" stroke="#111" stroke-width="0.15" >Cu<tspan font-size="6.3" dy="-3.8">2+</tspan><tspan font-size="1" dy="3.8">&#8203;</tspan>, Zn<tspan font-size="6.3" dy="-3.8">2+</tspan><tspan font-size="1" dy="3.8">&#8203;</tspan>, Ag<tspan font-size="6.3" dy="-3.8">+</tspan><tspan font-size="1" dy="3.8">&#8203;</tspan> +Hg<tspan font-size="6.3" dy="-3.8">2+</tspan><tspan font-size="1" dy="3.8">&#8203;</tspan></text></g>
</g>
<text x="215.20" y="12.80" font-family='"Liberation Serif", serif' font-size="16" text-anchor="start" fill="#111" font-weight="bold">b</text>
<line x1="488.30" y1="156.00" x2="492.30" y2="156.00" stroke="#1a1a1a" stroke-width="1.1" />
<g transform="translate(0 159.80) scale(1 1.1) translate(0 -159.80)"><text x="481.00" y="159.80" font-family='"Liberation Serif", serif' font-size="12.2" text-anchor="end" fill="#111" stroke="#111" stroke-width="0.15" >0</text></g>
<line x1="488.30" y1="131.22" x2="492.30" y2="131.22" stroke="#1a1a1a" stroke-width="1.1" />
<g transform="translate(0 135.02) scale(1 1.1) translate(0 -135.02)"><text x="481.00" y="135.02" font-family='"Liberation Serif", serif' font-size="12.2" text-anchor="end" fill="#111" stroke="#111" stroke-width="0.15" >0.2</text></g>
<line x1="488.30" y1="106.44" x2="492.30" y2="106.44" stroke="#1a1a1a" stroke-width="1.1" />
<g transform="translate(0 110.24) scale(1 1.1) translate(0 -110.24)"><text x="481.00" y="110.24" font-family='"Liberation Serif", serif' font-size="12.2" text-anchor="end" fill="#111" stroke="#111" stroke-width="0.15" >0.4</text></g>
<line x1="488.30" y1="81.66" x2="492.30" y2="81.66" stroke="#1a1a1a" stroke-width="1.1" />
<g transform="translate(0 85.46) scale(1 1.1) translate(0 -85.46)"><text x="481.00" y="85.46" font-family='"Liberation Serif", serif' font-size="12.2" text-anchor="end" fill="#111" stroke="#111" stroke-width="0.15" >0.6</text></g>
<line x1="488.30" y1="56.88" x2="492.30" y2="56.88" stroke="#1a1a1a" stroke-width="1.1" />
<g transform="translate(0 60.68) scale(1 1.1) translate(0 -60.68)"><text x="481.00" y="60.68" font-family='"Liberation Serif", serif' font-size="12.2" text-anchor="end" fill="#111" stroke="#111" stroke-width="0.15" >0.8</text></g>
<line x1="488.30" y1="32.10" x2="492.30" y2="32.10" stroke="#1a1a1a" stroke-width="1.1" />
<g transform="translate(0 35.90) scale(1 1.1) translate(0 -35.90)"><text x="481.00" y="35.90" font-family='"Liberation Serif", serif' font-size="12.2" text-anchor="end" fill="#111" stroke="#111" stroke-width="0.15" >1</text></g>
<line x1="492.30" y1="156.00" x2="492.30" y2="159.50" stroke="#1a1a1a" stroke-width="1.1" />
<g transform="translate(0 174.50) scale(1 1.1) translate(0 -174.50)"><text x="492.30" y="174.50" font-family='"Liberation Serif", serif' font-size="12.2" text-anchor="middle" fill="#111" stroke="#111" stroke-width="0.15" >0</text></g>
<line x1="524.14" y1="156.00" x2="524.14" y2="159.50" stroke="#1a1a1a" stroke-width="1.1" />
<g transform="translate(0 174.50) scale(1 1.1) translate(0 -174.50)"><text x="524.14" y="174.50" font-family='"Liberation Serif", serif' font-size="12.2" text-anchor="middle" fill="#111" stroke="#111" stroke-width="0.15" >2</text></g>
<line x1="555.98" y1="156.00" x2="555.98" y2="159.50" stroke="#1a1a1a" stroke-width="1.1" />
<g transform="translate(0 174.50) scale(1 1.1) translate(0 -174.50)"><text x="555.98" y="174.50" font-family='"Liberation Serif", serif' font-size="12.2" text-anchor="middle" fill="#111" stroke="#111" stroke-width="0.15" >4</text></g>
<line x1="587.82" y1="156.00" x2="587.82" y2="159.50" stroke="#1a1a1a" stroke-width="1.1" />
<g transform="translate(0 174.50) scale(1 1.1) translate(0 -174.50)"><text x="587.82" y="174.50" font-family='"Liberation Serif", serif' font-size="12.2" text-anchor="middle" fill="#111" stroke="#111" stroke-width="0.15" >6</text></g>
<line x1="619.66" y1="156.00" x2="619.66" y2="159.50" stroke="#1a1a1a" stroke-width="1.1" />
<g transform="translate(0 174.50) scale(1 1.1) translate(0 -174.50)"><text x="619.66" y="174.50" font-family='"Liberation Serif", serif' font-size="12.2" text-anchor="middle" fill="#111" stroke="#111" stroke-width="0.15" >8</text></g>
<line x1="651.50" y1="156.00" x2="651.50" y2="159.50" stroke="#1a1a1a" stroke-width="1.1" />
<g transform="translate(0 174.50) scale(1 1.1) translate(0 -174.50)"><text x="651.50" y="174.50" font-family='"Liberation Serif", serif' font-size="12.2" text-anchor="middle" fill="#111" stroke="#111" stroke-width="0.15" >10</text></g>
<g transform="translate(0 189.20) scale(1 1.1) translate(0 -189.20)"><text x="574.00" y="189.20" font-family='"Liberation Serif", serif' font-size="12.6" text-anchor="middle" fill="#111" stroke="#111" stroke-width="0.15" >Time (min)</text></g>
<g transform="translate(460.30 0) scale(1.1 1) translate(-460.30 0)"><text x="460.30" y="88.50" font-family='"Liberation Serif", serif' font-size="12.5" text-anchor="middle" fill="#111" stroke="#111" stroke-width="0.15" transform="rotate(-90 460.3 88.5)">Normalized intensity</text></g>
<path d="M492.30,32.10 L493.10,35.03 L493.89,37.95 L494.69,40.86 L495.48,43.76 L496.28,46.75 L497.08,49.82 L497.87,52.91 L498.67,55.99 L499.46,59.01 L500.26,61.93 L501.06,64.71 L501.85,67.29 L502.65,69.64 L503.44,71.73 L504.24,73.61 L505.04,75.30 L505.83,76.82 L506.63,78.20 L507.42,79.46 L508.22,80.62 L509.02,81.71 L509.81,82.74 L510.61,83.74 L511.40,84.71 L512.20,85.58 L513.00,86.34 L513.79,87.02 L514.59,87.63 L515.38,88.18 L516.18,88.69 L516.98,89.18 L517.77,89.66 L518.57,90.14 L519.36,90.62 L520.16,91.08 L520.96,91.51 L521.75,91.91 L522.55,92.28 L523.34,92.63 L524.14,92.97 L524.94,93.30 L525.73,93.61 L526.53,93.93 L527.32,94.23 L528.12,94.52 L528.92,94.80 L529.71,95.06 L530.51,95.31 L531.30,95.55 L532.10,95.78 L532.90,96.00 L533.69,96.22 L534.49,96.44 L535.28,96.66 L536.08,96.87 L536.88,97.08 L537.67,97.28 L538.47,97.47 L539.26,97.66 L540.06,97.84 L540.86,98.01 L541.65,98.17 L542.45,98.33 L543.24,98.47 L544.04,98.62 L544.84,98.76 L545.63,98.90 L546.43,99.04 L547.22,99.18 L548.02,99.31 L548.82,99.44 L549.61,99.58 L550.41,99.70 L551.20,99.83 L552.00,99.95 L552.80,100.07 L553.59,100.19 L554.39,100.31 L555.18,100.42 L555.98,100.53 L556.78,100.63 L557.57,100.73 L558.37,100.83 L559.16,100.92 L559.96,101.01 L560.76,101.09 L561.55,101.17 L562.35,101.24 L563.14,101.31 L563.94,101.38 L564.74,101.44 L565.53,101.50 L566.33,101.56 L567.12,101.62 L567.92,101.67 L568.72,101.73 L569.51,101.78 L570.31,101.83 L571.10,101.88 L571.90,101.93 L572.70,101.98 L573.49,102.03 L574.29,102.08 L575.08,102.14 L575.88,102.19 L576.68,102.24 L577.47,102.29 L578.27,102.34 L579.06,102.39 L579.86,102.44 L580.66,102.49 L581.45,102.54 L582.25,102.58 L583.04,102.63 L583.84,102.67 L584.64,102.71 L585.43,102.76 L586.23,102.79 L587.02,102.83 L587.82,102.87 L588.62,102.90 L589.41,102.93 L590.21,102.96 L591.00,102.99 L591.80,103.01 L592.60,103.04 L593.39,103.06 L594.19,103.09 L594.98,103.11 L595.78,103.13 L596.58,103.16 L597.37,103.18 L598.17,103.20 L598.96,103.22 L599.76,103.24 L600.56,103.26 L601.35,103.28 L602.15,103.30 L602.94,103.32 L603.74,103.34 L604.54,103.36 L605.33,103.38 L606.13,103.39 L606.92,103.41 L607.72,103.43 L608.52,103.44 L609.31,103.46 L610.11,103.48 L610.90,103.49 L611.70,103.51 L612.50,103.52 L613.29,103.54 L614.09,103.56 L614.88,103.57 L615.68,103.59 L616.48,103.60 L617.27,103.62 L618.07,103.63 L618.86,103.65 L619.66,103.66 L620.46,103.68 L621.25,103.69 L622.05,103.71 L622.84,103.72 L623.64,103.74 L624.44,103.75 L625.23,103.77 L626.03,103.78 L626.82,103.80 L627.62,103.81 L628.42,103.82 L629.21,103.84 L630.01,103.85 L630.80,103.86 L631.60,103.87 L632.40,103.89 L633.19,103.90 L633.99,103.91 L634.78,103.92 L635.58,103.94 L636.38,103.95 L637.17,103.96 L637.97,103.97 L638.76,103.98 L639.56,103.99 L640.36,104.00 L641.15,104.02 L641.95,104.03 L642.74,104.04 L643.54,104.05 L644.34,104.06 L645.13,104.07 L645.93,104.08 L646.72,104.09 L647.52,104.10 L648.32,104.12 L649.11,104.13 L649.91,104.14 L650.70,104.15 L651.50,104.16 L652.30,104.17 L653.09,104.19 L653.89,104.20 L654.68,104.21 L655.48,104.21" fill="none" stroke="#c0504d" stroke-width="1.1" stroke-dasharray="3 2"/>
<path d="M492.30,32.10 L493.10,36.96 L493.89,41.85 L494.69,46.49 L495.48,50.73 L496.28,55.03 L497.08,59.38 L497.87,63.75 L498.67,68.05 L499.46,72.25 L500.26,76.27 L501.06,80.06 L501.85,83.56 L502.65,86.71 L503.44,89.46 L504.24,91.85 L505.04,93.94 L505.83,95.75 L506.63,97.34 L507.42,98.75 L508.22,100.03 L509.02,101.21 L509.81,102.35 L510.61,103.50 L511.40,104.64 L512.20,105.68 L513.00,106.61 L513.79,107.43 L514.59,108.18 L515.38,108.85 L516.18,109.47 L516.98,110.06 L517.77,110.62 L518.57,111.17 L519.36,111.72 L520.16,112.21 L520.96,112.66 L521.75,113.06 L522.55,113.43 L523.34,113.76 L524.14,114.08 L524.94,114.39 L525.73,114.69 L526.53,114.99 L527.32,115.29 L528.12,115.58 L528.92,115.85 L529.71,116.10 L530.51,116.34 L531.30,116.57 L532.10,116.80 L532.90,117.02 L533.69,117.25 L534.49,117.49 L535.28,117.74 L536.08,118.00 L536.88,118.27 L537.67,118.53 L538.47,118.80 L539.26,119.06 L540.06,119.32 L540.86,119.56 L541.65,119.79 L542.45,119.99 L543.24,120.18 L544.04,120.36 L544.84,120.54 L545.63,120.72 L546.43,120.89 L547.22,121.06 L548.02,121.23 L548.82,121.39 L549.61,121.55 L550.41,121.71 L551.20,121.86 L552.00,122.02 L552.80,122.16 L553.59,122.31 L554.39,122.45 L555.18,122.59 L555.98,122.73 L556.78,122.86 L557.57,122.99 L558.37,123.12 L559.16,123.24 L559.96,123.36 L560.76,123.47 L561.55,123.58 L562.35,123.69 L563.14,123.79 L563.94,123.89 L564.74,123.99 L565.53,124.08 L566.33,124.18 L567.12,124.26 L567.92,124.35 L568.72,124.44 L569.51,124.52 L570.31,124.60 L571.10,124.68 L571.90,124.76 L572.70,124.84 L573.49,124.92 L574.29,124.99 L575.08,125.07 L575.88,125.15 L576.68,125.22 L577.47,125.29 L578.27,125.37 L579.06,125.44 L579.86,125.50 L580.66,125.57 L581.45,125.64 L582.25,125.70 L583.04,125.76 L583.84,125.82 L584.64,125.88 L585.43,125.94 L586.23,125.99 L587.02,126.05 L587.82,126.10 L588.62,126.15 L589.41,126.20 L590.21,126.25 L591.00,126.29 L591.80,126.34 L592.60,126.38 L593.39,126.42 L594.19,126.47 L594.98,126.51 L595.78,126.55 L596.58,126.60 L597.37,126.64 L598.17,126.68 L598.96,126.72 L599.76,126.76 L600.56,126.80 L601.35,126.84 L602.15,126.88 L602.94,126.92 L603.74,126.95 L604.54,126.99 L605.33,127.03 L606.13,127.07 L606.92,127.10 L607.72,127.14 L608.52,127.18 L609.31,127.21 L610.11,127.25 L610.90,127.28 L611.70,127.32 L612.50,127.35 L613.29,127.38 L614.09,127.42 L614.88,127.45 L615.68,127.48 L616.48,127.52 L617.27,127.55 L618.07,127.58 L618.86,127.61 L619.66,127.64 L620.46,127.68 L621.25,127.71 L622.05,127.74 L622.84,127.77 L623.64,127.80 L624.44,127.83 L625.23,127.86 L626.03,127.89 L626.82,127.91 L627.62,127.94 L628.42,127.97 L629.21,127.99 L630.01,128.02 L630.80,128.05 L631.60,128.07 L632.40,128.10 L633.19,128.12 L633.99,128.15 L634.78,128.17 L635.58,128.19 L636.38,128.22 L637.17,128.24 L637.97,128.26 L638.76,128.29 L639.56,128.31 L640.36,128.33 L641.15,128.35 L641.95,128.38 L642.74,128.40 L643.54,128.42 L644.34,128.44 L645.13,128.46 L645.93,128.49 L646.72,128.51 L647.52,128.53 L648.32,128.55 L649.11,128.58 L649.91,128.60 L650.70,128.62 L651.50,128.65 L652.30,128.67 L653.09,128.69 L653.89,128.72 L654.68,128.74 L655.48,128.74" fill="none" stroke="#9bbb59" stroke-width="1.1" stroke-dasharray="3 2"/>
<path d="M492.30,28.80 L495.60,32.10 L492.30,35.40 L489.00,32.10Z" fill="#0ba8ee"/>
<path d="M502.97,28.99 L506.27,32.29 L502.97,35.59 L499.67,32.29Z" fill="#0ba8ee"/>
<path d="M510.93,29.14 L514.23,32.44 L510.93,35.74 L507.63,32.44Z" fill="#0ba8ee"/>
<path d="M518.89,29.31 L522.19,32.61 L518.89,35.91 L515.59,32.61Z" fill="#0ba8ee"/>
<path d="M526.85,29.48 L530.15,32.78 L526.85,36.08 L523.55,32.78Z" fill="#0ba8ee"/>
<path d="M534.81,29.66 L538.11,32.96 L534.81,36.26 L531.51,32.96Z" fill="#0ba8ee"/>
<path d="M542.77,29.85 L546.07,33.15 L542.77,36.45 L539.47,33.15Z" fill="#0ba8ee"/>
<path d="M550.73,30.05 L554.03,33.35 L550.73,36.65 L547.43,33.35Z" fill="#0ba8ee"/>
<path d="M558.69,30.26 L561.99,33.56 L558.69,36.86 L555.39,33.56Z" fill="#0ba8ee"/>
<path d="M566.65,30.48 L569.95,33.78 L566.65,37.08 L563.35,33.78Z" fill="#0ba8ee"/>
<path d="M574.61,30.71 L577.91,34.01 L574.61,37.31 L571.31,34.01Z" fill="#0ba8ee"/>
<path d="M582.57,30.94 L585.87,34.24 L582.57,37.54 L579.27,34.24Z" fill="#0ba8ee"/>
<path d="M590.53,31.19 L593.83,34.49 L590.53,37.79 L587.23,34.49Z" fill="#0ba8ee"/>
<path d="M598.49,31.44 L601.79,34.74 L598.49,38.04 L595.19,34.74Z" fill="#0ba8ee"/>
<path d="M606.45,31.71 L609.75,35.01 L606.45,38.31 L603.15,35.01Z" fill="#0ba8ee"/>
<path d="M614.41,31.98 L617.71,35.28 L614.41,38.58 L611.11,35.28Z" fill="#0ba8ee"/>
<path d="M622.37,32.27 L625.67,35.57 L622.37,38.87 L619.07,35.57Z" fill="#0ba8ee"/>
<path d="M630.33,32.56 L633.63,35.86 L630.33,39.16 L627.03,35.86Z" fill="#0ba8ee"/>
<path d="M638.29,32.86 L641.59,36.16 L638.29,39.46 L634.99,36.16Z" fill="#0ba8ee"/>
<path d="M646.25,33.17 L649.55,36.47 L646.25,39.77 L642.95,36.47Z" fill="#0ba8ee"/>
<path d="M654.21,33.49 L657.51,36.79 L654.21,40.09 L650.91,36.79Z" fill="#0ba8ee"/>
<rect x="489.40" y="29.20" width="5.80" height="5.80" fill="#c0504d"/>
<rect x="492.11" y="39.11" width="5.80" height="5.80" fill="#c0504d"/>
<rect x="500.07" y="67.61" width="5.80" height="5.80" fill="#c0504d"/>
<rect x="508.03" y="81.24" width="5.80" height="5.80" fill="#c0504d"/>
<rect x="515.99" y="87.43" width="5.80" height="5.80" fill="#c0504d"/>
<rect x="523.95" y="91.15" width="5.80" height="5.80" fill="#c0504d"/>
<rect x="531.91" y="93.63" width="5.80" height="5.80" fill="#c0504d"/>
<rect x="539.87" y="95.49" width="5.80" height="5.80" fill="#c0504d"/>
<rect x="547.83" y="96.85" width="5.80" height="5.80" fill="#c0504d"/>
<rect x="555.79" y="97.96" width="5.80" height="5.80" fill="#c0504d"/>
<rect x="563.75" y="98.68" width="5.80" height="5.80" fill="#c0504d"/>
<rect x="571.71" y="99.20" width="5.80" height="5.80" fill="#c0504d"/>
<rect x="579.67" y="99.70" width="5.80" height="5.80" fill="#c0504d"/>
<rect x="587.63" y="100.07" width="5.80" height="5.80" fill="#c0504d"/>
<rect x="595.59" y="100.31" width="5.80" height="5.80" fill="#c0504d"/>
<rect x="603.55" y="100.50" width="5.80" height="5.80" fill="#c0504d"/>
<rect x="611.51" y="100.66" width="5.80" height="5.80" fill="#c0504d"/>
<rect x="619.47" y="100.81" width="5.80" height="5.80" fill="#c0504d"/>
<rect x="627.43" y="100.95" width="5.80" height="5.80" fill="#c0504d"/>
<rect x="635.39" y="101.07" width="5.80" height="5.80" fill="#c0504d"/>
<rect x="643.35" y="101.19" width="5.80" height="5.80" fill="#c0504d"/>
<rect x="651.31" y="101.30" width="5.80" height="5.80" fill="#c0504d"/>
<path d="M492.30,28.69 L495.40,34.58 L489.20,34.58Z" fill="#9bbb59"/>
<path d="M495.01,44.80 L498.11,50.69 L491.91,50.69Z" fill="#9bbb59"/>
<path d="M502.97,84.44 L506.07,90.33 L499.87,90.33Z" fill="#9bbb59"/>
<path d="M510.93,100.55 L514.03,106.44 L507.83,106.44Z" fill="#9bbb59"/>
<path d="M518.89,107.99 L521.99,113.88 L515.79,113.88Z" fill="#9bbb59"/>
<path d="M526.85,111.70 L529.95,117.59 L523.75,117.59Z" fill="#9bbb59"/>
<path d="M534.81,114.18 L537.91,120.07 L531.71,120.07Z" fill="#9bbb59"/>
<path d="M542.77,116.66 L545.87,122.55 L539.67,122.55Z" fill="#9bbb59"/>
<path d="M550.73,118.36 L553.83,124.25 L547.63,124.25Z" fill="#9bbb59"/>
<path d="M558.69,119.76 L561.79,125.65 L555.59,125.65Z" fill="#9bbb59"/>
<path d="M566.65,120.80 L569.75,126.69 L563.55,126.69Z" fill="#9bbb59"/>
<path d="M574.61,121.62 L577.71,127.51 L571.51,127.51Z" fill="#9bbb59"/>
<path d="M582.57,122.31 L585.67,128.20 L579.47,128.20Z" fill="#9bbb59"/>
<path d="M590.53,122.85 L593.63,128.74 L587.43,128.74Z" fill="#9bbb59"/>
<path d="M598.49,123.28 L601.59,129.17 L595.39,129.17Z" fill="#9bbb59"/>
<path d="M606.45,123.67 L609.55,129.56 L603.35,129.56Z" fill="#9bbb59"/>
<path d="M614.41,124.02 L617.51,129.91 L611.31,129.91Z" fill="#9bbb59"/>
<path d="M622.37,124.34 L625.47,130.23 L619.27,130.23Z" fill="#9bbb59"/>
<path d="M630.33,124.62 L633.43,130.51 L627.23,130.51Z" fill="#9bbb59"/>
<path d="M638.29,124.86 L641.39,130.75 L635.19,130.75Z" fill="#9bbb59"/>
<path d="M646.25,125.09 L649.35,130.98 L643.15,130.98Z" fill="#9bbb59"/>
<path d="M654.21,125.32 L657.31,131.21 L651.11,131.21Z" fill="#9bbb59"/>
<path d="M492.30,19.00 L660.20,19.00 L660.20,156.00" fill="none" stroke="#6b6b6b" stroke-width="1.4"/>
<path d="M492.30,19.00 L492.30,156.00 L660.20,156.00" fill="none" stroke="#1a1a1a" stroke-width="1.2"/>
<path d="M608.70,47.20 L611.70,50.20 L608.70,53.20 L605.70,50.20Z" fill="#0ba8ee"/>
<g transform="translate(0 54.50) scale(1 1.1) translate(0 -54.50)"><text x="616.60" y="54.50" font-family='"Liberation Serif", serif' font-size="12.3" text-anchor="start" fill="#111" stroke="#111" stroke-width="0.15" >0 µM</text></g>
<rect x="605.90" y="63.50" width="5.60" height="5.60" fill="#c0504d"/>
<g transform="translate(0 70.40) scale(1 1.1) translate(0 -70.40)"><text x="616.60" y="70.40" font-family='"Liberation Serif", serif' font-size="12.3" text-anchor="start" fill="#111" stroke="#111" stroke-width="0.15" >2.5 µM</text></g>
<path d="M608.70,79.11 L611.60,84.62 L605.80,84.62Z" fill="#9bbb59"/>
<g transform="translate(0 86.30) scale(1 1.1) translate(0 -86.30)"><text x="616.60" y="86.30" font-family='"Liberation Serif", serif' font-size="12.3" text-anchor="start" fill="#111" stroke="#111" stroke-width="0.15" >5 µM</text></g>
<text x="453.90" y="12.80" font-family='"Liberation Serif", serif' font-size="16" text-anchor="start" fill="#111" font-weight="bold">c</text>
<path d="M54.70,205.60 L221.00,205.60 L221.00,340.60" fill="none" stroke="#222" stroke-width="1.2"/>
<path d="M54.70,205.60 L54.70,340.60 L221.00,340.60" fill="none" stroke="#1a1a1a" stroke-width="1.2"/>
<g>
<path d="M54.70,326.96 L55.12,325.92 L55.53,324.21 L55.95,322.68 L56.36,320.97 L56.78,319.29 L57.19,317.04 L57.61,315.13 L58.03,313.58 L58.44,310.85 L58.86,309.39 L59.27,306.41 L59.69,304.21 L60.10,301.81 L60.52,299.64 L60.94,296.97 L61.35,294.75 L61.77,292.34 L62.18,288.90 L62.60,286.35 L63.02,284.37 L63.43,280.96 L63.85,278.25 L64.26,275.82 L64.68,272.98 L65.09,271.12 L65.51,268.51 L65.93,265.39 L66.34,263.13 L66.76,260.51 L67.17,257.81 L67.59,255.85 L68.00,253.46 L68.42,250.64 L68.84,248.22 L69.25,245.94 L69.67,244.06 L70.08,241.91 L70.50,240.35 L70.91,238.05 L71.33,236.74 L71.75,234.55 L72.16,232.80 L72.58,231.11 L72.99,229.86 L73.41,227.81 L73.82,227.25 L74.24,225.29 L74.66,224.11 L75.07,223.15 L75.49,222.06 L75.90,221.47 L76.32,220.02 L76.73,219.70 L77.15,218.66 L77.57,217.91 L77.98,217.50 L78.40,217.39 L78.81,217.01 L79.23,217.06 L79.65,216.17 L80.06,216.61 L80.48,216.37 L80.89,216.35 L81.31,216.05 L81.72,215.87 L82.14,216.34 L82.56,216.66 L82.97,216.45 L83.39,217.16 L83.80,217.49 L84.22,218.44 L84.63,218.20 L85.05,218.68 L85.47,219.26 L85.88,220.56 L86.30,220.70 L86.71,221.50 L87.13,222.51 L87.54,223.07 L87.96,224.39 L88.38,224.67 L88.79,226.43 L89.21,226.79 L89.62,227.52 L90.04,228.71 L90.45,229.89 L90.87,230.57 L91.29,232.22 L91.70,232.66 L92.12,234.58 L92.53,235.10 L92.95,236.25 L93.36,237.30 L93.78,238.56 L94.20,239.72 L94.61,240.79 L95.03,241.93 L95.44,243.80 L95.86,244.26 L96.28,245.87 L96.69,246.88 L97.11,248.29 L97.52,249.85 L97.94,250.98 L98.35,251.86 L98.77,252.97 L99.19,254.40 L99.60,255.52 L100.02,256.30 L100.43,257.60 L100.85,259.24 L101.26,260.47 L101.68,261.32 L102.10,262.43 L102.51,263.82 L102.93,264.62 L103.34,266.42 L103.76,266.99 L104.17,268.00 L104.59,269.30 L105.01,270.81 L105.42,271.57 L105.84,272.74 L106.25,273.44 L106.67,275.21 L107.08,275.88 L107.50,276.64 L107.92,278.04 L108.33,279.34 L108.75,280.12 L109.16,280.89 L109.58,281.75 L109.99,283.32 L110.41,284.60 L110.83,285.63 L111.24,286.22 L111.66,287.57 L112.07,287.73 L112.49,288.76 L112.91,290.24 L113.32,291.17 L113.74,292.02 L114.15,293.22 L114.57,293.38 L114.98,294.70 L115.40,295.39 L115.82,296.45 L116.23,297.06 L116.65,298.07 L117.06,298.82 L117.48,299.83 L117.89,300.65 L118.31,300.97 L118.73,301.88 L119.14,302.69 L119.56,303.01 L119.97,303.81 L120.39,304.66 L120.80,305.38 L121.22,305.96 L121.64,306.67 L122.05,307.49 L122.47,308.28 L122.88,308.69 L123.30,309.66 L123.71,310.33 L124.13,310.64 L124.55,310.86 L124.96,312.01 L125.38,312.36 L125.79,313.31 L126.21,313.70 L126.62,314.17 L127.04,314.71 L127.46,315.01 L127.87,315.32 L128.29,315.67 L128.70,316.38 L129.12,316.83 L129.54,317.78 L129.95,317.83 L130.37,318.28 L130.78,318.62 L131.20,318.89 L131.61,319.57 L132.03,320.48 L132.45,320.85 L132.86,321.41 L133.28,321.06 L133.69,321.50 L134.11,322.46 L134.52,322.17 L134.94,323.04 L135.36,323.30 L135.77,323.82 L136.19,323.83 L136.60,324.58 L137.02,324.43 L137.43,324.82 L137.85,325.03 L138.27,325.35 L138.68,326.02 L139.10,326.29 L139.51,326.25 L139.93,326.72 L140.34,326.95 L140.76,327.08 L141.18,327.99 L141.59,328.15 L142.01,327.67 L142.42,328.55 L142.84,328.24 L143.25,328.44 L143.67,329.22 L144.09,329.46 L144.50,329.63 L144.92,329.95 L145.33,329.94 L145.75,330.24 L146.17,330.38 L146.58,330.43 L147.00,331.13 L147.41,331.11 L147.83,331.14 L148.24,331.03 L148.66,331.79 L149.08,331.75 L149.49,331.88 L149.91,332.24 L150.32,332.53 L150.74,332.25 L151.15,332.28 L151.57,332.45 L151.99,332.97 L152.40,333.51 L152.82,333.51 L153.23,333.02 L153.65,333.48 L154.06,333.48 L154.48,334.03 L154.90,333.80 L155.31,334.32 L155.73,334.63 L156.14,334.21 L156.56,334.41 L156.97,334.97 L157.39,334.46 L157.81,334.63 L158.22,334.50 L158.64,335.01 L159.05,335.30 L159.47,335.34 L159.88,335.62 L160.30,335.81 L160.72,335.59 L161.13,335.63 L161.55,335.58 L161.96,336.23 L162.38,336.20 L162.80,336.06 L163.21,335.90 L163.63,336.60 L164.04,336.03 L164.46,336.83 L164.87,336.21 L165.29,336.68 L165.71,336.37 L166.12,336.50 L166.54,336.46 L166.95,336.92 L167.37,337.29 L167.78,336.87 L168.20,337.48 L168.62,337.23 L169.03,337.24 L169.45,337.56 L169.86,337.58 L170.28,337.14 L170.69,337.62 L171.11,337.57 L171.53,337.40 L171.94,337.70 L172.36,337.74 L172.77,337.35 L173.19,337.81 L173.60,337.53 L174.02,337.98 L174.44,337.98 L174.85,338.21 L175.27,338.04 L175.68,338.54 L176.10,338.26 L176.51,338.30 L176.93,338.47 L177.35,338.04 L177.76,337.89 L178.18,338.65 L178.59,338.41 L179.01,338.19 L179.43,338.45 L179.84,338.14 L180.26,338.80 L180.67,338.52 L181.09,338.80 L181.50,339.11 L181.92,338.51 L182.34,338.97 L182.75,338.58 L183.17,338.37 L183.58,338.64 L184.00,338.45 L184.41,338.78 L184.83,338.63 L185.25,339.29 L185.66,339.33 L186.08,338.98 L186.49,339.16 L186.91,339.13 L187.32,339.17 L187.74,338.81 L188.16,338.92 L188.57,339.25 L188.99,339.33 L189.40,339.48 L189.82,339.40 L190.23,338.98 L190.65,339.74 L191.07,339.37 L191.48,339.43 L191.90,339.01 L192.31,339.11 L192.73,339.52 L193.14,339.85 L193.56,339.64 L193.98,339.30 L194.39,339.62 L194.81,339.77 L195.22,339.59 L195.64,339.76 L196.06,339.33 L196.47,340.00 L196.89,339.80 L197.30,339.38 L197.72,339.84 L198.13,339.29 L198.55,339.79 L198.97,340.09 L199.38,339.40 L199.80,339.57 L200.21,339.49 L200.63,339.55 L201.04,340.12 L201.46,339.62 L201.88,340.18 L202.29,339.58 L202.71,339.84 L203.12,339.62 L203.54,339.87 L203.95,339.85 L204.37,339.64 L204.79,339.89 L205.20,339.81 L205.62,340.08 L206.03,339.93 L206.45,339.64 L206.86,339.86 L207.28,340.04 L207.70,340.05 L208.11,339.54 L208.53,340.21 L208.94,340.40 L209.36,339.92 L209.77,340.16 L210.19,339.57 L210.61,340.07 L211.02,339.57 L211.44,340.25 L211.85,340.14 L212.27,339.68 L212.69,339.83 L213.10,339.90 L213.52,340.12 L213.93,340.23 L214.35,339.68 L214.76,339.70 L215.18,340.14 L215.60,340.01 L216.01,340.31 L216.43,340.26 L216.84,339.84 L217.26,339.76 L217.67,340.36 L218.09,339.85 L218.51,340.09 L218.92,340.13 L219.34,340.29 L219.75,340.14 L220.17,339.93 L220.58,340.07 L221.00,339.89" fill="none" stroke="#3464a8" stroke-width="1.8" stroke-linejoin="round"/>
<path d="M54.70,328.43 L55.12,327.59 L55.53,326.52 L55.95,325.43 L56.36,323.94 L56.78,322.25 L57.19,320.86 L57.61,319.44 L58.03,317.15 L58.44,315.47 L58.86,313.57 L59.27,312.44 L59.69,310.54 L60.10,308.64 L60.52,306.21 L60.94,304.04 L61.35,302.36 L61.77,300.03 L62.18,297.58 L62.60,295.84 L63.02,293.50 L63.43,291.17 L63.85,289.04 L64.26,286.57 L64.68,284.81 L65.09,282.08 L65.51,280.36 L65.93,277.64 L66.34,276.11 L66.76,273.30 L67.17,271.89 L67.59,269.60 L68.00,267.83 L68.42,265.89 L68.84,264.07 L69.25,261.78 L69.67,260.73 L70.08,258.42 L70.50,257.46 L70.91,255.51 L71.33,253.72 L71.75,252.13 L72.16,250.71 L72.58,249.74 L72.99,248.34 L73.41,247.36 L73.82,246.34 L74.24,245.17 L74.66,243.56 L75.07,242.61 L75.49,242.46 L75.90,241.46 L76.32,240.65 L76.73,239.88 L77.15,239.09 L77.57,239.13 L77.98,238.75 L78.40,238.31 L78.81,237.63 L79.23,237.11 L79.65,237.44 L80.06,236.91 L80.48,236.91 L80.89,236.93 L81.31,236.65 L81.72,236.81 L82.14,237.40 L82.56,237.00 L82.97,237.81 L83.39,237.71 L83.80,238.56 L84.22,238.39 L84.63,239.34 L85.05,239.91 L85.47,240.23 L85.88,240.62 L86.30,241.01 L86.71,242.07 L87.13,242.37 L87.54,243.28 L87.96,243.59 L88.38,244.52 L88.79,244.75 L89.21,246.20 L89.62,246.94 L90.04,247.66 L90.45,248.29 L90.87,249.50 L91.29,249.84 L91.70,250.80 L92.12,251.50 L92.53,252.77 L92.95,253.48 L93.36,254.42 L93.78,255.83 L94.20,256.38 L94.61,257.71 L95.03,258.94 L95.44,259.10 L95.86,260.25 L96.28,261.70 L96.69,262.69 L97.11,263.10 L97.52,264.84 L97.94,265.25 L98.35,266.91 L98.77,267.34 L99.19,268.54 L99.60,269.70 L100.02,270.56 L100.43,271.56 L100.85,272.71 L101.26,273.05 L101.68,274.17 L102.10,275.62 L102.51,276.04 L102.93,277.64 L103.34,277.96 L103.76,279.64 L104.17,280.10 L104.59,281.36 L105.01,281.79 L105.42,283.03 L105.84,284.20 L106.25,284.86 L106.67,285.24 L107.08,286.60 L107.50,287.30 L107.92,288.22 L108.33,289.32 L108.75,289.62 L109.16,291.07 L109.58,291.66 L109.99,292.29 L110.41,293.04 L110.83,294.24 L111.24,295.09 L111.66,296.17 L112.07,296.77 L112.49,297.77 L112.91,298.35 L113.32,298.57 L113.74,299.94 L114.15,300.33 L114.57,300.81 L114.98,302.02 L115.40,302.82 L115.82,303.76 L116.23,304.21 L116.65,305.16 L117.06,305.21 L117.48,305.76 L117.89,306.38 L118.31,307.04 L118.73,308.09 L119.14,308.87 L119.56,309.21 L119.97,309.93 L120.39,309.99 L120.80,311.03 L121.22,311.53 L121.64,311.75 L122.05,312.30 L122.47,313.26 L122.88,313.35 L123.30,314.54 L123.71,315.04 L124.13,315.43 L124.55,315.85 L124.96,316.44 L125.38,317.07 L125.79,317.49 L126.21,317.32 L126.62,318.27 L127.04,318.97 L127.46,319.03 L127.87,319.85 L128.29,319.62 L128.70,320.22 L129.12,320.48 L129.54,320.76 L129.95,321.86 L130.37,321.82 L130.78,322.52 L131.20,322.68 L131.61,322.57 L132.03,323.01 L132.45,323.50 L132.86,324.11 L133.28,324.67 L133.69,324.75 L134.11,324.68 L134.52,325.19 L134.94,325.92 L135.36,326.29 L135.77,326.22 L136.19,326.66 L136.60,326.65 L137.02,327.13 L137.43,327.46 L137.85,327.23 L138.27,327.92 L138.68,327.78 L139.10,328.15 L139.51,328.99 L139.93,329.21 L140.34,329.39 L140.76,329.77 L141.18,329.42 L141.59,330.12 L142.01,330.43 L142.42,330.45 L142.84,330.25 L143.25,330.23 L143.67,330.99 L144.09,330.84 L144.50,330.95 L144.92,331.24 L145.33,331.44 L145.75,331.62 L146.17,332.29 L146.58,332.28 L147.00,331.94 L147.41,332.60 L147.83,332.25 L148.24,332.73 L148.66,333.30 L149.08,332.89 L149.49,333.39 L149.91,333.34 L150.32,333.81 L150.74,333.82 L151.15,334.08 L151.57,333.80 L151.99,333.79 L152.40,334.35 L152.82,334.19 L153.23,334.87 L153.65,334.66 L154.06,334.61 L154.48,334.78 L154.90,334.52 L155.31,334.89 L155.73,334.92 L156.14,335.48 L156.56,334.91 L156.97,335.18 L157.39,335.72 L157.81,335.59 L158.22,335.64 L158.64,335.91 L159.05,336.15 L159.47,335.66 L159.88,335.95 L160.30,336.63 L160.72,336.72 L161.13,335.94 L161.55,336.70 L161.96,336.96 L162.38,336.94 L162.80,336.99 L163.21,336.65 L163.63,337.16 L164.04,337.10 L164.46,337.17 L164.87,337.49 L165.29,336.78 L165.71,337.06 L166.12,337.60 L166.54,337.34 L166.95,337.34 L167.37,337.56 L167.78,337.14 L168.20,337.72 L168.62,337.37 L169.03,337.56 L169.45,337.51 L169.86,337.45 L170.28,338.21 L170.69,337.80 L171.11,337.70 L171.53,338.10 L171.94,337.92 L172.36,338.37 L172.77,338.36 L173.19,338.31 L173.60,337.79 L174.02,338.10 L174.44,338.12 L174.85,338.08 L175.27,338.25 L175.68,338.16 L176.10,338.16 L176.51,338.47 L176.93,338.35 L177.35,338.15 L177.76,338.61 L178.18,339.00 L178.59,338.57 L179.01,339.15 L179.43,338.49 L179.84,338.86 L180.26,338.82 L180.67,338.72 L181.09,339.14 L181.50,338.57 L181.92,338.55 L182.34,339.13 L182.75,339.21 L183.17,339.12 L183.58,338.84 L184.00,339.18 L184.41,339.28 L184.83,338.86 L185.25,339.53 L185.66,339.20 L186.08,338.95 L186.49,339.34 L186.91,339.58 L187.32,339.35 L187.74,339.73 L188.16,339.41 L188.57,339.19 L188.99,339.55 L189.40,339.30 L189.82,339.15 L190.23,339.12 L190.65,339.27 L191.07,339.73 L191.48,339.07 L191.90,339.50 L192.31,339.20 L192.73,339.78 L193.14,339.23 L193.56,339.38 L193.98,339.74 L194.39,339.41 L194.81,339.34 L195.22,340.03 L195.64,339.89 L196.06,340.03 L196.47,339.64 L196.89,339.28 L197.30,339.55 L197.72,339.32 L198.13,339.90 L198.55,339.87 L198.97,340.11 L199.38,340.21 L199.80,340.02 L200.21,340.02 L200.63,339.62 L201.04,339.52 L201.46,340.16 L201.88,339.40 L202.29,339.81 L202.71,339.47 L203.12,340.28 L203.54,339.62 L203.95,339.90 L204.37,340.35 L204.79,339.57 L205.20,339.99 L205.62,339.72 L206.03,340.27 L206.45,340.31 L206.86,339.69 L207.28,340.10 L207.70,339.82 L208.11,339.96 L208.53,339.84 L208.94,340.47 L209.36,339.61 L209.77,340.22 L210.19,339.81 L210.61,339.61 L211.02,340.05 L211.44,340.08 L211.85,340.10 L212.27,339.68 L212.69,339.65 L213.10,340.12 L213.52,339.74 L213.93,340.20 L214.35,340.26 L214.76,340.15 L215.18,340.10 L215.60,339.83 L216.01,340.15 L216.43,340.33 L216.84,340.38 L217.26,339.82 L217.67,339.73 L218.09,340.16 L218.51,340.15 L218.92,340.17 L219.34,340.19 L219.75,340.12 L220.17,340.52 L220.58,340.14 L221.00,340.03" fill="none" stroke="#a8c57a" stroke-width="1.8" stroke-linejoin="round"/>
<path d="M54.70,329.81 L55.12,329.24 L55.53,328.34 L55.95,327.29 L56.36,325.81 L56.78,324.60 L57.19,323.15 L57.61,321.85 L58.03,320.62 L58.44,318.79 L58.86,318.07 L59.27,315.93 L59.69,314.53 L60.10,312.88 L60.52,311.52 L60.94,309.76 L61.35,307.83 L61.77,305.97 L62.18,303.97 L62.60,302.16 L63.02,300.28 L63.43,298.02 L63.85,296.86 L64.26,294.49 L64.68,292.74 L65.09,291.23 L65.51,288.91 L65.93,287.70 L66.34,285.62 L66.76,283.59 L67.17,282.28 L67.59,280.67 L68.00,278.62 L68.42,277.42 L68.84,275.89 L69.25,273.89 L69.67,272.96 L70.08,271.52 L70.50,269.68 L70.91,268.66 L71.33,267.35 L71.75,265.44 L72.16,264.94 L72.58,263.56 L72.99,262.11 L73.41,261.26 L73.82,260.37 L74.24,259.04 L74.66,258.75 L75.07,258.05 L75.49,257.12 L75.90,256.52 L76.32,255.98 L76.73,255.45 L77.15,254.74 L77.57,254.48 L77.98,254.20 L78.40,254.01 L78.81,253.44 L79.23,253.61 L79.65,253.09 L80.06,252.87 L80.48,252.75 L80.89,253.12 L81.31,252.97 L81.72,252.78 L82.14,252.46 L82.56,252.85 L82.97,253.48 L83.39,253.63 L83.80,254.01 L84.22,254.23 L84.63,254.56 L85.05,254.47 L85.47,254.77 L85.88,256.00 L86.30,256.25 L86.71,256.16 L87.13,256.96 L87.54,257.91 L87.96,257.95 L88.38,258.75 L88.79,259.28 L89.21,260.03 L89.62,261.26 L90.04,261.67 L90.45,262.50 L90.87,263.04 L91.29,263.83 L91.70,264.75 L92.12,265.49 L92.53,266.05 L92.95,267.01 L93.36,267.82 L93.78,268.23 L94.20,268.74 L94.61,270.30 L95.03,271.18 L95.44,271.27 L95.86,272.90 L96.28,273.46 L96.69,273.87 L97.11,274.98 L97.52,275.47 L97.94,276.80 L98.35,277.59 L98.77,278.47 L99.19,279.62 L99.60,279.65 L100.02,280.67 L100.43,281.50 L100.85,282.85 L101.26,283.23 L101.68,283.78 L102.10,284.93 L102.51,285.59 L102.93,286.96 L103.34,287.48 L103.76,288.53 L104.17,289.40 L104.59,289.36 L105.01,290.21 L105.42,291.56 L105.84,291.84 L106.25,292.56 L106.67,293.34 L107.08,294.31 L107.50,294.73 L107.92,295.74 L108.33,295.98 L108.75,297.22 L109.16,297.56 L109.58,298.66 L109.99,298.91 L110.41,300.09 L110.83,300.44 L111.24,301.41 L111.66,301.89 L112.07,303.00 L112.49,303.36 L112.91,304.58 L113.32,304.74 L113.74,305.19 L114.15,306.59 L114.57,307.04 L114.98,307.16 L115.40,308.41 L115.82,308.93 L116.23,309.57 L116.65,309.64 L117.06,310.34 L117.48,311.38 L117.89,311.92 L118.31,311.93 L118.73,312.84 L119.14,312.99 L119.56,313.85 L119.97,313.89 L120.39,314.46 L120.80,315.37 L121.22,315.93 L121.64,316.26 L122.05,316.49 L122.47,317.26 L122.88,317.78 L123.30,318.34 L123.71,318.51 L124.13,318.86 L124.55,319.57 L124.96,319.56 L125.38,320.02 L125.79,320.94 L126.21,321.14 L126.62,321.34 L127.04,321.98 L127.46,321.65 L127.87,322.03 L128.29,322.56 L128.70,322.98 L129.12,323.28 L129.54,323.71 L129.95,323.87 L130.37,324.70 L130.78,325.23 L131.20,325.39 L131.61,325.71 L132.03,326.01 L132.45,326.39 L132.86,325.91 L133.28,326.35 L133.69,327.29 L134.11,326.75 L134.52,327.45 L134.94,327.53 L135.36,327.64 L135.77,328.14 L136.19,328.39 L136.60,329.07 L137.02,329.00 L137.43,328.95 L137.85,329.12 L138.27,329.56 L138.68,330.10 L139.10,329.71 L139.51,330.00 L139.93,330.71 L140.34,330.75 L140.76,330.48 L141.18,331.18 L141.59,331.57 L142.01,331.33 L142.42,331.68 L142.84,331.61 L143.25,332.01 L143.67,332.25 L144.09,332.29 L144.50,332.68 L144.92,332.24 L145.33,332.36 L145.75,333.19 L146.17,332.72 L146.58,333.43 L147.00,333.81 L147.41,333.30 L147.83,333.68 L148.24,333.61 L148.66,333.55 L149.08,333.63 L149.49,334.35 L149.91,334.48 L150.32,334.14 L150.74,334.46 L151.15,334.34 L151.57,335.17 L151.99,335.30 L152.40,335.37 L152.82,334.87 L153.23,335.23 L153.65,335.18 L154.06,335.28 L154.48,335.67 L154.90,335.94 L155.31,335.85 L155.73,336.08 L156.14,335.64 L156.56,336.00 L156.97,336.49 L157.39,336.06 L157.81,335.82 L158.22,335.96 L158.64,336.26 L159.05,336.18 L159.47,336.74 L159.88,336.33 L160.30,336.84 L160.72,337.00 L161.13,337.02 L161.55,336.66 L161.96,337.10 L162.38,337.17 L162.80,337.36 L163.21,337.51 L163.63,337.30 L164.04,337.18 L164.46,337.09 L164.87,337.08 L165.29,337.75 L165.71,337.72 L166.12,337.23 L166.54,337.62 L166.95,338.14 L167.37,337.87 L167.78,337.79 L168.20,337.83 L168.62,338.11 L169.03,337.77 L169.45,338.32 L169.86,338.12 L170.28,337.99 L170.69,338.12 L171.11,338.32 L171.53,338.09 L171.94,338.29 L172.36,338.67 L172.77,338.07 L173.19,338.02 L173.60,338.44 L174.02,338.95 L174.44,338.32 L174.85,338.16 L175.27,338.81 L175.68,338.27 L176.10,338.91 L176.51,338.65 L176.93,338.43 L177.35,338.55 L177.76,339.01 L178.18,338.68 L178.59,338.96 L179.01,339.13 L179.43,339.38 L179.84,338.54 L180.26,338.78 L180.67,339.13 L181.09,338.71 L181.50,339.49 L181.92,339.03 L182.34,339.16 L182.75,338.96 L183.17,339.39 L183.58,339.60 L184.00,339.07 L184.41,339.29 L184.83,339.49 L185.25,338.90 L185.66,339.14 L186.08,339.30 L186.49,339.64 L186.91,339.73 L187.32,339.76 L187.74,339.18 L188.16,339.56 L188.57,339.68 L188.99,339.76 L189.40,339.16 L189.82,339.12 L190.23,339.12 L190.65,339.62 L191.07,339.61 L191.48,339.26 L191.90,339.55 L192.31,339.66 L192.73,339.59 L193.14,339.56 L193.56,339.64 L193.98,339.27 L194.39,339.96 L194.81,339.52 L195.22,339.96 L195.64,339.68 L196.06,339.48 L196.47,339.66 L196.89,340.04 L197.30,339.65 L197.72,339.85 L198.13,339.54 L198.55,339.69 L198.97,339.91 L199.38,340.03 L199.80,339.41 L200.21,339.73 L200.63,340.21 L201.04,339.80 L201.46,340.10 L201.88,339.54 L202.29,340.29 L202.71,340.08 L203.12,340.29 L203.54,340.16 L203.95,339.96 L204.37,340.17 L204.79,339.85 L205.20,339.67 L205.62,339.67 L206.03,340.04 L206.45,339.65 L206.86,339.86 L207.28,340.22 L207.70,339.73 L208.11,340.21 L208.53,339.66 L208.94,340.35 L209.36,340.41 L209.77,340.13 L210.19,339.72 L210.61,339.98 L211.02,340.15 L211.44,340.43 L211.85,340.15 L212.27,339.85 L212.69,340.17 L213.10,339.88 L213.52,339.74 L213.93,340.15 L214.35,340.18 L214.76,340.33 L215.18,339.83 L215.60,340.19 L216.01,340.15 L216.43,339.99 L216.84,340.19 L217.26,340.05 L217.67,340.20 L218.09,339.88 L218.51,340.09 L218.92,340.25 L219.34,340.17 L219.75,340.46 L220.17,340.30 L220.58,340.01 L221.00,339.83" fill="none" stroke="#d4807c" stroke-width="1.8" stroke-linejoin="round"/>
<path d="M54.70,331.38 L55.12,330.43 L55.53,329.85 L55.95,328.87 L56.36,328.22 L56.78,327.25 L57.19,326.01 L57.61,324.47 L58.03,323.15 L58.44,322.46 L58.86,321.31 L59.27,319.79 L59.69,318.47 L60.10,317.22 L60.52,315.54 L60.94,314.46 L61.35,313.00 L61.77,310.94 L62.18,309.64 L62.60,307.75 L63.02,306.42 L63.43,304.74 L63.85,303.52 L64.26,302.05 L64.68,300.39 L65.09,298.79 L65.51,296.75 L65.93,295.85 L66.34,293.97 L66.76,292.49 L67.17,290.83 L67.59,290.17 L68.00,288.55 L68.42,287.41 L68.84,285.61 L69.25,284.41 L69.67,283.14 L70.08,281.69 L70.50,281.37 L70.91,279.69 L71.33,278.57 L71.75,277.88 L72.16,276.40 L72.58,275.81 L72.99,274.74 L73.41,273.75 L73.82,273.31 L74.24,272.39 L74.66,271.90 L75.07,271.09 L75.49,270.34 L75.90,269.81 L76.32,269.67 L76.73,268.80 L77.15,268.28 L77.57,267.60 L77.98,268.02 L78.40,267.76 L78.81,266.87 L79.23,267.07 L79.65,267.10 L80.06,266.93 L80.48,266.52 L80.89,266.97 L81.31,266.59 L81.72,267.12 L82.14,266.90 L82.56,266.75 L82.97,267.18 L83.39,267.20 L83.80,267.76 L84.22,267.46 L84.63,268.33 L85.05,268.72 L85.47,268.51 L85.88,269.11 L86.30,269.48 L86.71,270.05 L87.13,270.69 L87.54,271.05 L87.96,271.66 L88.38,271.65 L88.79,272.35 L89.21,272.75 L89.62,273.45 L90.04,273.68 L90.45,274.45 L90.87,275.22 L91.29,275.56 L91.70,276.68 L92.12,276.86 L92.53,277.31 L92.95,278.66 L93.36,279.23 L93.78,279.28 L94.20,280.05 L94.61,280.63 L95.03,281.96 L95.44,282.59 L95.86,282.82 L96.28,283.44 L96.69,284.09 L97.11,285.04 L97.52,285.63 L97.94,286.90 L98.35,286.87 L98.77,288.01 L99.19,288.48 L99.60,289.52 L100.02,290.03 L100.43,290.63 L100.85,291.11 L101.26,292.14 L101.68,292.86 L102.10,293.70 L102.51,294.00 L102.93,294.54 L103.34,295.30 L103.76,296.57 L104.17,297.06 L104.59,297.63 L105.01,297.80 L105.42,298.33 L105.84,299.79 L106.25,300.34 L106.67,300.62 L107.08,301.51 L107.50,302.15 L107.92,302.64 L108.33,302.68 L108.75,304.04 L109.16,304.38 L109.58,304.90 L109.99,305.87 L110.41,306.34 L110.83,306.72 L111.24,307.21 L111.66,308.08 L112.07,308.69 L112.49,308.67 L112.91,309.70 L113.32,310.37 L113.74,310.33 L114.15,311.65 L114.57,311.75 L114.98,312.03 L115.40,313.21 L115.82,313.49 L116.23,313.66 L116.65,314.69 L117.06,314.52 L117.48,315.49 L117.89,315.87 L118.31,316.37 L118.73,317.13 L119.14,317.49 L119.56,317.42 L119.97,318.17 L120.39,318.69 L120.80,319.23 L121.22,319.32 L121.64,319.31 L122.05,320.01 L122.47,320.30 L122.88,320.94 L123.30,321.06 L123.71,321.59 L124.13,322.06 L124.55,322.20 L124.96,322.88 L125.38,322.79 L125.79,323.68 L126.21,323.89 L126.62,324.48 L127.04,324.35 L127.46,324.95 L127.87,325.18 L128.29,325.16 L128.70,325.38 L129.12,326.34 L129.54,326.60 L129.95,326.86 L130.37,326.36 L130.78,326.97 L131.20,327.06 L131.61,327.60 L132.03,327.48 L132.45,328.00 L132.86,328.41 L133.28,328.97 L133.69,328.73 L134.11,329.31 L134.52,329.54 L134.94,329.08 L135.36,329.53 L135.77,329.88 L136.19,330.14 L136.60,330.72 L137.02,330.66 L137.43,330.95 L137.85,330.95 L138.27,331.09 L138.68,331.36 L139.10,331.45 L139.51,331.87 L139.93,331.41 L140.34,331.95 L140.76,332.06 L141.18,332.34 L141.59,332.89 L142.01,333.04 L142.42,333.24 L142.84,333.30 L143.25,332.69 L143.67,333.38 L144.09,333.67 L144.50,333.62 L144.92,333.95 L145.33,334.21 L145.75,334.05 L146.17,334.27 L146.58,333.95 L147.00,334.14 L147.41,334.07 L147.83,334.45 L148.24,334.80 L148.66,335.08 L149.08,335.25 L149.49,334.66 L149.91,335.57 L150.32,335.64 L150.74,335.36 L151.15,335.18 L151.57,335.12 L151.99,335.70 L152.40,335.90 L152.82,335.53 L153.23,335.90 L153.65,336.25 L154.06,336.29 L154.48,336.45 L154.90,336.68 L155.31,336.25 L155.73,336.68 L156.14,336.53 L156.56,336.63 L156.97,336.48 L157.39,336.46 L157.81,336.48 L158.22,336.75 L158.64,337.13 L159.05,336.97 L159.47,337.00 L159.88,337.54 L160.30,337.03 L160.72,337.61 L161.13,337.27 L161.55,337.73 L161.96,337.52 L162.38,337.57 L162.80,337.57 L163.21,337.85 L163.63,337.37 L164.04,337.48 L164.46,337.80 L164.87,337.58 L165.29,337.65 L165.71,337.88 L166.12,337.77 L166.54,338.10 L166.95,337.84 L167.37,337.79 L167.78,338.36 L168.20,338.10 L168.62,337.89 L169.03,338.27 L169.45,338.60 L169.86,338.00 L170.28,338.47 L170.69,338.39 L171.11,338.12 L171.53,338.16 L171.94,338.53 L172.36,338.28 L172.77,339.04 L173.19,338.81 L173.60,338.70 L174.02,338.91 L174.44,338.86 L174.85,338.82 L175.27,339.15 L175.68,339.01 L176.10,338.87 L176.51,339.15 L176.93,339.07 L177.35,338.73 L177.76,339.01 L178.18,339.42 L178.59,339.24 L179.01,339.04 L179.43,339.30 L179.84,338.73 L180.26,339.06 L180.67,339.59 L181.09,339.25 L181.50,339.07 L181.92,338.90 L182.34,339.49 L182.75,339.62 L183.17,339.16 L183.58,339.67 L184.00,339.04 L184.41,339.27 L184.83,339.03 L185.25,339.14 L185.66,339.68 L186.08,339.56 L186.49,339.80 L186.91,339.45 L187.32,339.82 L187.74,339.58 L188.16,339.11 L188.57,339.43 L188.99,339.48 L189.40,339.26 L189.82,339.84 L190.23,339.32 L190.65,339.20 L191.07,339.65 L191.48,339.90 L191.90,339.48 L192.31,339.70 L192.73,339.79 L193.14,339.84 L193.56,340.13 L193.98,340.19 L194.39,339.95 L194.81,339.99 L195.22,340.15 L195.64,339.43 L196.06,339.64 L196.47,339.72 L196.89,339.57 L197.30,339.59 L197.72,340.28 L198.13,339.43 L198.55,340.21 L198.97,339.49 L199.38,339.96 L199.80,339.64 L200.21,339.70 L200.63,340.06 L201.04,339.80 L201.46,340.00 L201.88,340.25 L202.29,340.04 L202.71,339.54 L203.12,340.27 L203.54,340.31 L203.95,339.72 L204.37,340.17 L204.79,340.13 L205.20,340.45 L205.62,339.60 L206.03,340.00 L206.45,340.16 L206.86,340.17 L207.28,340.07 L207.70,339.66 L208.11,340.35 L208.53,339.72 L208.94,340.35 L209.36,340.44 L209.77,340.03 L210.19,340.20 L210.61,339.86 L211.02,340.19 L211.44,340.34 L211.85,340.37 L212.27,339.87 L212.69,339.75 L213.10,340.36 L213.52,340.29 L213.93,340.21 L214.35,340.29 L214.76,340.22 L215.18,339.80 L215.60,339.95 L216.01,339.83 L216.43,340.11 L216.84,340.20 L217.26,340.41 L217.67,340.16 L218.09,339.97 L218.51,340.11 L218.92,340.12 L219.34,340.26 L219.75,340.40 L220.17,340.43 L220.58,340.32 L221.00,340.11" fill="none" stroke="#8eaedc" stroke-width="1.8" stroke-linejoin="round"/>
<path d="M54.70,332.69 L55.12,331.55 L55.53,331.60 L55.95,330.63 L56.36,329.89 L56.78,328.93 L57.19,328.43 L57.61,326.97 L58.03,325.88 L58.44,325.27 L58.86,324.51 L59.27,323.16 L59.69,321.95 L60.10,320.68 L60.52,319.73 L60.94,318.35 L61.35,317.99 L61.77,316.70 L62.18,315.23 L62.60,313.79 L63.02,312.19 L63.43,311.26 L63.85,310.38 L64.26,308.70 L64.68,307.73 L65.09,306.79 L65.51,304.78 L65.93,304.26 L66.34,303.02 L66.76,301.42 L67.17,300.53 L67.59,299.46 L68.00,297.99 L68.42,297.04 L68.84,296.50 L69.25,295.22 L69.67,294.20 L70.08,293.20 L70.50,291.95 L70.91,290.97 L71.33,290.65 L71.75,289.46 L72.16,288.60 L72.58,287.79 L72.99,286.95 L73.41,286.49 L73.82,286.16 L74.24,285.66 L74.66,285.03 L75.07,284.49 L75.49,283.86 L75.90,283.60 L76.32,282.83 L76.73,282.04 L77.15,282.46 L77.57,282.09 L77.98,281.25 L78.40,280.98 L78.81,280.99 L79.23,281.26 L79.65,280.48 L80.06,280.99 L80.48,280.72 L80.89,280.27 L81.31,280.41 L81.72,280.70 L82.14,280.92 L82.56,280.36 L82.97,280.82 L83.39,281.38 L83.80,280.86 L84.22,281.84 L84.63,281.90 L85.05,282.17 L85.47,281.75 L85.88,282.17 L86.30,282.76 L86.71,283.23 L87.13,283.38 L87.54,284.07 L87.96,284.49 L88.38,284.57 L88.79,284.90 L89.21,285.71 L89.62,286.26 L90.04,285.99 L90.45,286.83 L90.87,287.28 L91.29,287.81 L91.70,288.69 L92.12,288.77 L92.53,289.53 L92.95,290.01 L93.36,290.57 L93.78,291.04 L94.20,291.44 L94.61,291.90 L95.03,292.21 L95.44,293.05 L95.86,293.71 L96.28,294.60 L96.69,294.70 L97.11,295.73 L97.52,295.67 L97.94,296.31 L98.35,296.65 L98.77,297.28 L99.19,298.00 L99.60,298.56 L100.02,299.04 L100.43,299.72 L100.85,300.15 L101.26,301.24 L101.68,301.20 L102.10,301.96 L102.51,302.78 L102.93,303.09 L103.34,303.22 L103.76,304.31 L104.17,305.03 L104.59,305.29 L105.01,305.77 L105.42,305.98 L105.84,306.72 L106.25,307.48 L106.67,308.06 L107.08,308.24 L107.50,308.77 L107.92,309.35 L108.33,309.42 L108.75,310.28 L109.16,310.54 L109.58,310.80 L109.99,311.92 L110.41,312.30 L110.83,312.83 L111.24,312.84 L111.66,313.79 L112.07,313.84 L112.49,314.31 L112.91,314.57 L113.32,315.62 L113.74,315.81 L114.15,316.70 L114.57,316.42 L114.98,317.03 L115.40,317.84 L115.82,317.81 L116.23,318.75 L116.65,318.57 L117.06,319.28 L117.48,320.13 L117.89,320.47 L118.31,320.06 L118.73,320.72 L119.14,320.77 L119.56,321.89 L119.97,321.81 L120.39,322.01 L120.80,322.33 L121.22,323.32 L121.64,322.85 L122.05,323.51 L122.47,324.31 L122.88,323.93 L123.30,324.71 L123.71,324.78 L124.13,325.17 L124.55,325.85 L124.96,325.33 L125.38,326.26 L125.79,326.52 L126.21,326.93 L126.62,327.02 L127.04,326.86 L127.46,327.11 L127.87,327.34 L128.29,327.79 L128.70,328.20 L129.12,328.04 L129.54,328.21 L129.95,329.19 L130.37,328.75 L130.78,329.49 L131.20,329.69 L131.61,329.38 L132.03,330.07 L132.45,329.86 L132.86,330.41 L133.28,330.97 L133.69,330.54 L134.11,330.79 L134.52,331.11 L134.94,331.08 L135.36,331.39 L135.77,331.23 L136.19,331.80 L136.60,331.55 L137.02,331.79 L137.43,331.94 L137.85,332.46 L138.27,332.71 L138.68,332.50 L139.10,332.64 L139.51,332.80 L139.93,333.31 L140.34,333.61 L140.76,333.49 L141.18,334.10 L141.59,333.37 L142.01,334.29 L142.42,334.44 L142.84,333.94 L143.25,334.70 L143.67,334.16 L144.09,334.21 L144.50,334.83 L144.92,335.21 L145.33,335.14 L145.75,334.77 L146.17,334.87 L146.58,335.59 L147.00,335.00 L147.41,335.58 L147.83,335.55 L148.24,335.42 L148.66,335.92 L149.08,335.73 L149.49,336.16 L149.91,336.23 L150.32,336.02 L150.74,336.32 L151.15,336.39 L151.57,336.17 L151.99,335.99 L152.40,336.83 L152.82,336.89 L153.23,336.57 L153.65,336.36 L154.06,336.73 L154.48,337.09 L154.90,337.03 L155.31,336.85 L155.73,336.61 L156.14,336.87 L156.56,337.41 L156.97,337.19 L157.39,337.59 L157.81,337.72 L158.22,337.80 L158.64,337.75 L159.05,337.66 L159.47,337.62 L159.88,338.07 L160.30,337.73 L160.72,337.72 L161.13,337.84 L161.55,337.75 L161.96,337.81 L162.38,338.01 L162.80,338.29 L163.21,337.62 L163.63,338.31 L164.04,337.90 L164.46,338.51 L164.87,338.61 L165.29,338.29 L165.71,338.63 L166.12,338.59 L166.54,338.70 L166.95,338.69 L167.37,338.82 L167.78,338.39 L168.20,338.18 L168.62,338.97 L169.03,338.68 L169.45,338.91 L169.86,338.41 L170.28,338.82 L170.69,338.30 L171.11,338.85 L171.53,338.81 L171.94,339.04 L172.36,338.70 L172.77,338.45 L173.19,338.85 L173.60,339.11 L174.02,339.20 L174.44,339.37 L174.85,338.89 L175.27,339.15 L175.68,339.42 L176.10,339.53 L176.51,339.17 L176.93,338.85 L177.35,339.20 L177.76,339.17 L178.18,338.98 L178.59,339.17 L179.01,339.25 L179.43,339.26 L179.84,339.14 L180.26,339.68 L180.67,339.43 L181.09,339.24 L181.50,339.31 L181.92,339.04 L182.34,339.35 L182.75,339.85 L183.17,339.64 L183.58,339.05 L184.00,339.49 L184.41,339.20 L184.83,339.10 L185.25,339.77 L185.66,339.73 L186.08,339.32 L186.49,339.79 L186.91,340.02 L187.32,339.57 L187.74,339.69 L188.16,339.23 L188.57,339.58 L188.99,340.10 L189.40,339.34 L189.82,339.52 L190.23,339.33 L190.65,340.03 L191.07,339.98 L191.48,340.03 L191.90,339.64 L192.31,340.05 L192.73,339.78 L193.14,339.63 L193.56,339.38 L193.98,339.72 L194.39,339.91 L194.81,339.99 L195.22,339.47 L195.64,339.57 L196.06,340.04 L196.47,339.90 L196.89,340.03 L197.30,339.52 L197.72,339.73 L198.13,339.62 L198.55,339.70 L198.97,340.36 L199.38,339.70 L199.80,340.00 L200.21,340.07 L200.63,340.14 L201.04,340.04 L201.46,339.84 L201.88,340.10 L202.29,340.01 L202.71,340.29 L203.12,339.82 L203.54,340.11 L203.95,339.92 L204.37,340.25 L204.79,339.85 L205.20,340.15 L205.62,340.12 L206.03,340.15 L206.45,340.01 L206.86,339.93 L207.28,340.11 L207.70,340.41 L208.11,339.81 L208.53,340.12 L208.94,340.40 L209.36,339.88 L209.77,340.29 L210.19,340.15 L210.61,340.35 L211.02,340.21 L211.44,340.52 L211.85,339.93 L212.27,340.00 L212.69,340.49 L213.10,339.82 L213.52,340.22 L213.93,340.12 L214.35,340.03 L214.76,339.98 L215.18,340.42 L215.60,340.32 L216.01,340.14 L216.43,340.29 L216.84,339.92 L217.26,340.10 L217.67,340.11 L218.09,340.09 L218.51,340.16 L218.92,340.09 L219.34,340.29 L219.75,339.99 L220.17,340.18 L220.58,340.47 L221.00,340.00" fill="none" stroke="#ef8530" stroke-width="1.8" stroke-linejoin="round"/>
<path d="M54.70,333.25 L55.12,332.77 L55.53,332.53 L55.95,331.34 L56.36,331.19 L56.78,330.54 L57.19,329.25 L57.61,328.72 L58.03,327.90 L58.44,327.11 L58.86,326.31 L59.27,325.37 L59.69,324.40 L60.10,323.68 L60.52,322.56 L60.94,321.47 L61.35,320.84 L61.77,319.41 L62.18,318.59 L62.60,317.70 L63.02,316.39 L63.43,315.38 L63.85,314.73 L64.26,313.55 L64.68,312.00 L65.09,310.84 L65.51,310.52 L65.93,308.86 L66.34,308.04 L66.76,307.34 L67.17,306.06 L67.59,305.34 L68.00,304.04 L68.42,302.94 L68.84,302.12 L69.25,301.27 L69.67,300.83 L70.08,299.98 L70.50,299.10 L70.91,298.54 L71.33,297.98 L71.75,296.83 L72.16,296.02 L72.58,295.93 L72.99,294.65 L73.41,294.32 L73.82,293.30 L74.24,293.11 L74.66,292.83 L75.07,291.85 L75.49,292.14 L75.90,291.01 L76.32,291.41 L76.73,290.71 L77.15,290.52 L77.57,290.37 L77.98,289.53 L78.40,289.74 L78.81,289.90 L79.23,289.42 L79.65,289.32 L80.06,289.10 L80.48,288.99 L80.89,289.14 L81.31,289.11 L81.72,289.26 L82.14,289.51 L82.56,289.43 L82.97,289.77 L83.39,289.08 L83.80,289.89 L84.22,290.02 L84.63,290.19 L85.05,290.12 L85.47,290.07 L85.88,291.10 L86.30,290.84 L86.71,291.31 L87.13,291.77 L87.54,291.51 L87.96,292.43 L88.38,292.39 L88.79,292.53 L89.21,292.92 L89.62,293.56 L90.04,293.61 L90.45,293.93 L90.87,294.63 L91.29,294.84 L91.70,295.69 L92.12,296.35 L92.53,296.28 L92.95,296.77 L93.36,297.70 L93.78,298.06 L94.20,298.18 L94.61,298.69 L95.03,299.40 L95.44,299.40 L95.86,300.05 L96.28,300.22 L96.69,301.38 L97.11,301.95 L97.52,302.19 L97.94,302.40 L98.35,302.61 L98.77,303.88 L99.19,304.36 L99.60,304.00 L100.02,305.01 L100.43,305.17 L100.85,305.81 L101.26,306.50 L101.68,306.99 L102.10,306.79 L102.51,307.29 L102.93,308.55 L103.34,308.75 L103.76,309.20 L104.17,309.62 L104.59,310.16 L105.01,310.04 L105.42,311.14 L105.84,311.54 L106.25,311.43 L106.67,312.09 L107.08,312.39 L107.50,312.91 L107.92,313.22 L108.33,313.26 L108.75,314.13 L109.16,314.87 L109.58,314.90 L109.99,315.02 L110.41,316.15 L110.83,316.65 L111.24,316.64 L111.66,316.96 L112.07,317.93 L112.49,318.09 L112.91,318.19 L113.32,319.12 L113.74,319.53 L114.15,319.09 L114.57,319.91 L114.98,320.17 L115.40,320.98 L115.82,320.95 L116.23,321.43 L116.65,321.93 L117.06,322.05 L117.48,322.38 L117.89,323.07 L118.31,323.29 L118.73,323.55 L119.14,324.06 L119.56,323.98 L119.97,324.16 L120.39,324.25 L120.80,325.08 L121.22,324.92 L121.64,325.09 L122.05,326.19 L122.47,325.88 L122.88,326.33 L123.30,326.95 L123.71,327.19 L124.13,327.42 L124.55,327.67 L124.96,327.78 L125.38,328.12 L125.79,327.83 L126.21,328.34 L126.62,328.72 L127.04,329.17 L127.46,328.74 L127.87,329.38 L128.29,329.28 L128.70,329.96 L129.12,329.58 L129.54,329.72 L129.95,330.54 L130.37,330.61 L130.78,330.69 L131.20,330.99 L131.61,330.84 L132.03,331.62 L132.45,331.45 L132.86,331.65 L133.28,331.30 L133.69,332.22 L134.11,331.95 L134.52,332.24 L134.94,331.96 L135.36,332.67 L135.77,332.64 L136.19,332.58 L136.60,332.56 L137.02,333.01 L137.43,333.42 L137.85,333.56 L138.27,333.65 L138.68,333.43 L139.10,334.16 L139.51,333.78 L139.93,333.94 L140.34,334.55 L140.76,334.19 L141.18,334.11 L141.59,334.28 L142.01,335.11 L142.42,334.48 L142.84,334.74 L143.25,334.67 L143.67,334.81 L144.09,335.20 L144.50,335.61 L144.92,335.53 L145.33,335.87 L145.75,335.62 L146.17,335.69 L146.58,336.16 L147.00,336.22 L147.41,335.64 L147.83,336.11 L148.24,336.57 L148.66,336.12 L149.08,336.64 L149.49,336.13 L149.91,336.55 L150.32,336.18 L150.74,336.39 L151.15,336.60 L151.57,337.03 L151.99,337.17 L152.40,337.00 L152.82,337.13 L153.23,337.14 L153.65,337.14 L154.06,337.19 L154.48,337.01 L154.90,337.71 L155.31,337.15 L155.73,337.68 L156.14,337.62 L156.56,337.43 L156.97,337.42 L157.39,337.71 L157.81,337.56 L158.22,337.57 L158.64,338.20 L159.05,338.12 L159.47,338.12 L159.88,338.24 L160.30,337.78 L160.72,338.09 L161.13,337.97 L161.55,338.02 L161.96,337.76 L162.38,338.46 L162.80,338.29 L163.21,338.28 L163.63,338.43 L164.04,338.42 L164.46,338.84 L164.87,338.26 L165.29,338.71 L165.71,338.75 L166.12,338.11 L166.54,338.65 L166.95,338.49 L167.37,338.61 L167.78,338.46 L168.20,338.92 L168.62,338.51 L169.03,338.51 L169.45,339.06 L169.86,338.56 L170.28,338.60 L170.69,338.65 L171.11,338.99 L171.53,339.10 L171.94,339.09 L172.36,339.38 L172.77,338.95 L173.19,339.28 L173.60,338.82 L174.02,338.92 L174.44,339.32 L174.85,338.90 L175.27,339.09 L175.68,338.90 L176.10,338.98 L176.51,338.83 L176.93,339.06 L177.35,339.00 L177.76,339.37 L178.18,339.26 L178.59,339.45 L179.01,339.75 L179.43,339.04 L179.84,339.70 L180.26,339.06 L180.67,339.60 L181.09,339.66 L181.50,339.23 L181.92,339.18 L182.34,339.78 L182.75,339.88 L183.17,339.95 L183.58,339.34 L184.00,339.67 L184.41,339.32 L184.83,339.87 L185.25,339.42 L185.66,339.70 L186.08,339.99 L186.49,339.52 L186.91,339.87 L187.32,339.97 L187.74,340.12 L188.16,339.82 L188.57,339.86 L188.99,339.33 L189.40,339.48 L189.82,339.48 L190.23,339.94 L190.65,339.99 L191.07,340.03 L191.48,339.43 L191.90,339.68 L192.31,340.27 L192.73,339.87 L193.14,340.15 L193.56,339.93 L193.98,339.74 L194.39,339.93 L194.81,339.59 L195.22,340.24 L195.64,339.51 L196.06,340.12 L196.47,339.80 L196.89,340.06 L197.30,339.73 L197.72,339.94 L198.13,339.78 L198.55,340.18 L198.97,339.63 L199.38,340.05 L199.80,339.72 L200.21,339.59 L200.63,339.58 L201.04,340.16 L201.46,339.82 L201.88,340.18 L202.29,339.78 L202.71,339.95 L203.12,340.19 L203.54,340.36 L203.95,339.81 L204.37,340.32 L204.79,339.68 L205.20,339.96 L205.62,340.48 L206.03,340.07 L206.45,339.68 L206.86,339.75 L207.28,340.34 L207.70,340.12 L208.11,339.75 L208.53,340.33 L208.94,339.93 L209.36,340.08 L209.77,340.06 L210.19,339.90 L210.61,340.18 L211.02,340.14 L211.44,339.95 L211.85,340.25 L212.27,340.28 L212.69,340.14 L213.10,339.87 L213.52,339.94 L213.93,339.88 L214.35,340.18 L214.76,339.92 L215.18,340.06 L215.60,340.13 L216.01,340.48 L216.43,339.97 L216.84,340.37 L217.26,340.11 L217.67,340.12 L218.09,340.15 L218.51,340.21 L218.92,340.24 L219.34,340.32 L219.75,340.15 L220.17,340.30 L220.58,339.91 L221.00,340.02" fill="none" stroke="#3c9cbd" stroke-width="1.8" stroke-linejoin="round"/>
<path d="M54.70,333.70 L55.12,333.58 L55.53,333.20 L55.95,332.60 L56.36,331.84 L56.78,331.87 L57.19,331.15 L57.61,330.31 L58.03,329.80 L58.44,329.29 L58.86,327.89 L59.27,327.37 L59.69,327.10 L60.10,325.46 L60.52,325.18 L60.94,324.29 L61.35,323.46 L61.77,322.95 L62.18,321.77 L62.60,321.05 L63.02,319.82 L63.43,319.31 L63.85,318.23 L64.26,317.19 L64.68,316.65 L65.09,315.93 L65.51,315.03 L65.93,313.42 L66.34,312.88 L66.76,312.18 L67.17,311.16 L67.59,310.33 L68.00,309.27 L68.42,308.68 L68.84,307.80 L69.25,307.07 L69.67,306.57 L70.08,306.13 L70.50,305.54 L70.91,305.20 L71.33,304.56 L71.75,303.52 L72.16,303.03 L72.58,302.87 L72.99,302.01 L73.41,301.23 L73.82,301.16 L74.24,300.18 L74.66,300.30 L75.07,299.91 L75.49,299.23 L75.90,299.21 L76.32,298.27 L76.73,297.98 L77.15,297.85 L77.57,297.86 L77.98,297.71 L78.40,297.44 L78.81,297.28 L79.23,297.72 L79.65,297.06 L80.06,296.73 L80.48,296.80 L80.89,297.31 L81.31,296.86 L81.72,297.19 L82.14,297.44 L82.56,297.28 L82.97,297.14 L83.39,297.70 L83.80,297.49 L84.22,297.22 L84.63,297.43 L85.05,297.47 L85.47,297.72 L85.88,298.40 L86.30,298.35 L86.71,298.90 L87.13,299.02 L87.54,299.04 L87.96,299.52 L88.38,299.72 L88.79,299.93 L89.21,300.11 L89.62,300.53 L90.04,300.86 L90.45,301.25 L90.87,301.73 L91.29,301.59 L91.70,302.48 L92.12,303.11 L92.53,302.77 L92.95,303.28 L93.36,303.96 L93.78,304.00 L94.20,304.59 L94.61,304.94 L95.03,304.93 L95.44,305.87 L95.86,306.31 L96.28,306.37 L96.69,307.24 L97.11,307.49 L97.52,308.07 L97.94,308.48 L98.35,308.31 L98.77,309.13 L99.19,309.74 L99.60,309.71 L100.02,310.16 L100.43,310.36 L100.85,310.78 L101.26,310.88 L101.68,311.62 L102.10,311.70 L102.51,312.06 L102.93,312.88 L103.34,313.04 L103.76,313.37 L104.17,313.68 L104.59,314.08 L105.01,314.92 L105.42,314.89 L105.84,315.07 L106.25,316.09 L106.67,315.66 L107.08,315.98 L107.50,316.34 L107.92,317.00 L108.33,317.52 L108.75,318.03 L109.16,318.30 L109.58,318.14 L109.99,319.25 L110.41,319.22 L110.83,319.86 L111.24,319.71 L111.66,320.38 L112.07,320.83 L112.49,320.71 L112.91,321.49 L113.32,321.27 L113.74,322.39 L114.15,322.10 L114.57,322.68 L114.98,323.01 L115.40,323.47 L115.82,323.71 L116.23,324.14 L116.65,324.18 L117.06,324.73 L117.48,325.25 L117.89,325.11 L118.31,325.68 L118.73,325.49 L119.14,325.74 L119.56,326.31 L119.97,326.45 L120.39,326.63 L120.80,326.56 L121.22,327.02 L121.64,327.63 L122.05,328.02 L122.47,327.79 L122.88,328.20 L123.30,328.55 L123.71,328.76 L124.13,328.78 L124.55,329.48 L124.96,329.04 L125.38,329.66 L125.79,329.63 L126.21,330.13 L126.62,330.42 L127.04,330.44 L127.46,330.47 L127.87,330.34 L128.29,331.32 L128.70,331.27 L129.12,331.58 L129.54,331.24 L129.95,331.63 L130.37,331.40 L130.78,332.30 L131.20,331.76 L131.61,331.81 L132.03,332.55 L132.45,332.47 L132.86,332.75 L133.28,332.59 L133.69,332.73 L134.11,333.49 L134.52,333.67 L134.94,333.80 L135.36,333.88 L135.77,333.43 L136.19,333.39 L136.60,333.58 L137.02,333.86 L137.43,333.75 L137.85,334.43 L138.27,334.42 L138.68,334.95 L139.10,334.48 L139.51,334.57 L139.93,334.91 L140.34,335.32 L140.76,334.64 L141.18,334.99 L141.59,335.53 L142.01,335.47 L142.42,335.93 L142.84,335.71 L143.25,336.00 L143.67,335.92 L144.09,336.23 L144.50,336.27 L144.92,336.27 L145.33,335.94 L145.75,335.85 L146.17,336.44 L146.58,336.41 L147.00,336.18 L147.41,336.20 L147.83,336.30 L148.24,336.81 L148.66,336.40 L149.08,336.79 L149.49,336.98 L149.91,336.99 L150.32,336.84 L150.74,336.89 L151.15,337.46 L151.57,337.31 L151.99,337.44 L152.40,336.86 L152.82,337.74 L153.23,337.74 L153.65,337.83 L154.06,337.73 L154.48,337.85 L154.90,337.41 L155.31,337.95 L155.73,337.69 L156.14,338.13 L156.56,337.74 L156.97,337.52 L157.39,337.84 L157.81,337.73 L158.22,338.33 L158.64,337.90 L159.05,337.84 L159.47,338.48 L159.88,338.38 L160.30,338.23 L160.72,338.42 L161.13,338.40 L161.55,338.65 L161.96,338.35 L162.38,338.33 L162.80,338.21 L163.21,338.08 L163.63,338.95 L164.04,338.20 L164.46,338.68 L164.87,338.55 L165.29,338.24 L165.71,339.15 L166.12,338.72 L166.54,339.07 L166.95,338.94 L167.37,338.40 L167.78,338.96 L168.20,338.90 L168.62,338.73 L169.03,339.23 L169.45,338.73 L169.86,339.13 L170.28,338.63 L170.69,339.05 L171.11,338.77 L171.53,339.31 L171.94,339.23 L172.36,338.89 L172.77,339.42 L173.19,339.19 L173.60,339.46 L174.02,339.23 L174.44,338.92 L174.85,339.24 L175.27,339.22 L175.68,339.06 L176.10,339.10 L176.51,339.42 L176.93,339.01 L177.35,339.70 L177.76,339.76 L178.18,339.84 L178.59,339.50 L179.01,339.73 L179.43,339.22 L179.84,339.10 L180.26,339.73 L180.67,339.71 L181.09,339.20 L181.50,339.13 L181.92,339.74 L182.34,339.71 L182.75,339.47 L183.17,339.56 L183.58,339.53 L184.00,339.92 L184.41,339.50 L184.83,339.80 L185.25,339.89 L185.66,340.04 L186.08,339.56 L186.49,340.13 L186.91,339.40 L187.32,339.61 L187.74,339.80 L188.16,339.36 L188.57,339.63 L188.99,339.51 L189.40,340.12 L189.82,339.89 L190.23,339.73 L190.65,340.27 L191.07,339.48 L191.48,339.57 L191.90,339.83 L192.31,340.08 L192.73,339.52 L193.14,340.22 L193.56,340.08 L193.98,340.02 L194.39,340.21 L194.81,339.57 L195.22,339.95 L195.64,340.36 L196.06,340.16 L196.47,340.06 L196.89,340.17 L197.30,340.10 L197.72,340.08 L198.13,340.22 L198.55,339.93 L198.97,340.04 L199.38,339.63 L199.80,340.18 L200.21,340.01 L200.63,339.91 L201.04,340.10 L201.46,339.79 L201.88,340.18 L202.29,340.25 L202.71,339.69 L203.12,339.99 L203.54,340.27 L203.95,339.80 L204.37,340.23 L204.79,340.14 L205.20,339.82 L205.62,340.18 L206.03,340.19 L206.45,340.23 L206.86,340.33 L207.28,340.07 L207.70,340.21 L208.11,339.86 L208.53,340.23 L208.94,340.19 L209.36,339.75 L209.77,340.28 L210.19,340.51 L210.61,340.33 L211.02,340.14 L211.44,340.14 L211.85,339.96 L212.27,340.27 L212.69,340.35 L213.10,340.29 L213.52,340.26 L213.93,340.04 L214.35,340.37 L214.76,340.47 L215.18,340.37 L215.60,340.17 L216.01,339.98 L216.43,339.94 L216.84,340.08 L217.26,339.92 L217.67,339.90 L218.09,340.37 L218.51,340.14 L218.92,340.10 L219.34,340.20 L219.75,340.15 L220.17,340.29 L220.58,340.12 L221.00,340.42" fill="none" stroke="#6a4c9c" stroke-width="1.8" stroke-linejoin="round"/>
<path d="M54.70,334.57 L55.12,334.58 L55.53,333.35 L55.95,333.27 L56.36,332.64 L56.78,332.85 L57.19,332.24 L57.61,331.87 L58.03,330.64 L58.44,330.81 L58.86,329.60 L59.27,329.49 L59.69,328.77 L60.10,327.51 L60.52,327.26 L60.94,326.91 L61.35,326.01 L61.77,325.48 L62.18,324.42 L62.60,323.89 L63.02,322.73 L63.43,322.22 L63.85,321.76 L64.26,321.18 L64.68,320.48 L65.09,319.10 L65.51,318.75 L65.93,318.35 L66.34,316.80 L66.76,316.53 L67.17,315.47 L67.59,315.56 L68.00,314.52 L68.42,313.78 L68.84,313.74 L69.25,312.76 L69.67,311.97 L70.08,311.32 L70.50,311.50 L70.91,310.86 L71.33,309.96 L71.75,309.74 L72.16,308.61 L72.58,308.32 L72.99,307.75 L73.41,307.81 L73.82,307.61 L74.24,306.78 L74.66,306.65 L75.07,305.91 L75.49,305.66 L75.90,305.31 L76.32,305.00 L76.73,305.59 L77.15,305.09 L77.57,304.34 L77.98,304.57 L78.40,304.83 L78.81,304.65 L79.23,303.96 L79.65,304.22 L80.06,303.71 L80.48,304.28 L80.89,304.19 L81.31,303.78 L81.72,304.15 L82.14,304.38 L82.56,303.79 L82.97,304.10 L83.39,303.98 L83.80,304.45 L84.22,304.69 L84.63,304.28 L85.05,304.93 L85.47,305.10 L85.88,305.31 L86.30,305.24 L86.71,304.98 L87.13,305.25 L87.54,305.97 L87.96,305.87 L88.38,305.97 L88.79,306.78 L89.21,306.99 L89.62,306.54 L90.04,306.95 L90.45,307.68 L90.87,307.61 L91.29,307.95 L91.70,308.60 L92.12,308.92 L92.53,308.96 L92.95,308.79 L93.36,309.86 L93.78,309.78 L94.20,309.82 L94.61,310.50 L95.03,310.77 L95.44,310.68 L95.86,311.54 L96.28,311.46 L96.69,311.89 L97.11,312.18 L97.52,312.39 L97.94,313.16 L98.35,313.20 L98.77,314.02 L99.19,313.74 L99.60,313.92 L100.02,314.55 L100.43,315.05 L100.85,315.58 L101.26,315.59 L101.68,315.68 L102.10,316.48 L102.51,316.77 L102.93,316.98 L103.34,317.60 L103.76,317.91 L104.17,317.52 L104.59,317.80 L105.01,318.29 L105.42,318.71 L105.84,318.82 L106.25,319.24 L106.67,319.57 L107.08,319.93 L107.50,320.01 L107.92,320.07 L108.33,320.92 L108.75,320.66 L109.16,321.52 L109.58,321.20 L109.99,321.69 L110.41,322.66 L110.83,322.83 L111.24,322.75 L111.66,323.07 L112.07,323.82 L112.49,323.61 L112.91,324.07 L113.32,323.92 L113.74,324.32 L114.15,324.65 L114.57,325.25 L114.98,325.08 L115.40,325.67 L115.82,325.72 L116.23,325.82 L116.65,326.05 L117.06,326.71 L117.48,326.90 L117.89,327.12 L118.31,327.68 L118.73,327.53 L119.14,327.97 L119.56,328.09 L119.97,328.20 L120.39,328.37 L120.80,329.02 L121.22,328.82 L121.64,328.86 L122.05,329.74 L122.47,329.26 L122.88,329.96 L123.30,329.93 L123.71,330.46 L124.13,330.80 L124.55,330.39 L124.96,330.91 L125.38,331.05 L125.79,331.27 L126.21,331.07 L126.62,331.10 L127.04,331.92 L127.46,332.14 L127.87,332.14 L128.29,332.25 L128.70,332.42 L129.12,332.56 L129.54,332.44 L129.95,332.99 L130.37,332.75 L130.78,333.05 L131.20,333.23 L131.61,333.31 L132.03,333.75 L132.45,333.51 L132.86,333.86 L133.28,333.60 L133.69,334.42 L134.11,334.04 L134.52,334.38 L134.94,333.91 L135.36,334.12 L135.77,334.61 L136.19,334.74 L136.60,334.90 L137.02,334.51 L137.43,335.15 L137.85,335.08 L138.27,335.08 L138.68,335.52 L139.10,335.84 L139.51,335.91 L139.93,335.94 L140.34,335.38 L140.76,335.39 L141.18,335.45 L141.59,335.50 L142.01,336.02 L142.42,335.97 L142.84,336.60 L143.25,336.52 L143.67,336.21 L144.09,336.23 L144.50,336.50 L144.92,336.39 L145.33,336.82 L145.75,336.33 L146.17,336.94 L146.58,336.72 L147.00,336.52 L147.41,336.86 L147.83,337.28 L148.24,337.20 L148.66,336.72 L149.08,337.59 L149.49,337.22 L149.91,336.94 L150.32,337.50 L150.74,337.55 L151.15,337.80 L151.57,337.46 L151.99,337.40 L152.40,337.92 L152.82,337.76 L153.23,337.59 L153.65,338.20 L154.06,337.72 L154.48,337.97 L154.90,338.16 L155.31,337.98 L155.73,337.75 L156.14,337.72 L156.56,337.97 L156.97,337.79 L157.39,338.32 L157.81,338.26 L158.22,337.99 L158.64,338.73 L159.05,338.30 L159.47,337.97 L159.88,338.49 L160.30,338.52 L160.72,338.17 L161.13,338.39 L161.55,338.87 L161.96,339.04 L162.38,338.42 L162.80,338.30 L163.21,338.71 L163.63,339.12 L164.04,339.21 L164.46,338.59 L164.87,338.88 L165.29,339.07 L165.71,338.51 L166.12,339.31 L166.54,339.09 L166.95,338.59 L167.37,339.40 L167.78,338.63 L168.20,338.74 L168.62,339.49 L169.03,339.54 L169.45,339.35 L169.86,339.31 L170.28,339.30 L170.69,339.25 L171.11,339.27 L171.53,338.86 L171.94,339.48 L172.36,338.83 L172.77,339.64 L173.19,339.72 L173.60,339.59 L174.02,339.72 L174.44,338.93 L174.85,339.22 L175.27,339.56 L175.68,339.05 L176.10,339.81 L176.51,339.31 L176.93,339.20 L177.35,339.84 L177.76,339.54 L178.18,339.48 L178.59,339.60 L179.01,339.69 L179.43,339.80 L179.84,339.73 L180.26,339.63 L180.67,339.68 L181.09,339.77 L181.50,339.49 L181.92,339.48 L182.34,339.77 L182.75,339.61 L183.17,339.52 L183.58,339.50 L184.00,339.53 L184.41,340.11 L184.83,339.83 L185.25,339.82 L185.66,339.37 L186.08,339.50 L186.49,340.13 L186.91,339.64 L187.32,339.58 L187.74,339.70 L188.16,339.95 L188.57,339.48 L188.99,340.09 L189.40,339.77 L189.82,339.84 L190.23,339.93 L190.65,340.02 L191.07,339.76 L191.48,340.02 L191.90,340.29 L192.31,340.10 L192.73,339.93 L193.14,340.16 L193.56,339.88 L193.98,340.12 L194.39,339.73 L194.81,340.20 L195.22,339.64 L195.64,340.07 L196.06,340.11 L196.47,340.29 L196.89,339.59 L197.30,339.99 L197.72,340.35 L198.13,340.32 L198.55,340.24 L198.97,339.67 L199.38,339.72 L199.80,340.29 L200.21,340.20 L200.63,340.12 L201.04,340.19 L201.46,340.16 L201.88,340.27 L202.29,340.17 L202.71,340.38 L203.12,340.02 L203.54,339.99 L203.95,340.16 L204.37,340.12 L204.79,340.44 L205.20,339.79 L205.62,339.81 L206.03,339.84 L206.45,340.15 L206.86,340.13 L207.28,340.29 L207.70,340.20 L208.11,340.11 L208.53,340.13 L208.94,340.28 L209.36,340.06 L209.77,340.29 L210.19,340.06 L210.61,340.14 L211.02,340.32 L211.44,339.82 L211.85,340.27 L212.27,340.10 L212.69,339.81 L213.10,340.07 L213.52,340.13 L213.93,340.45 L214.35,340.18 L214.76,339.86 L215.18,340.52 L215.60,340.45 L216.01,340.13 L216.43,340.27 L216.84,339.84 L217.26,340.53 L217.67,340.27 L218.09,340.04 L218.51,339.88 L218.92,339.93 L219.34,340.44 L219.75,340.08 L220.17,340.37 L220.58,340.28 L221.00,340.42" fill="none" stroke="#79a23c" stroke-width="1.8" stroke-linejoin="round"/>
<path d="M54.70,335.25 L55.12,334.82 L55.53,334.79 L55.95,334.67 L56.36,334.04 L56.78,333.54 L57.19,333.09 L57.61,332.76 L58.03,332.02 L58.44,332.29 L58.86,331.51 L59.27,331.33 L59.69,330.48 L60.10,329.98 L60.52,329.21 L60.94,328.89 L61.35,328.07 L61.77,327.43 L62.18,327.18 L62.60,326.45 L63.02,326.30 L63.43,325.26 L63.85,325.16 L64.26,324.30 L64.68,324.15 L65.09,323.02 L65.51,323.03 L65.93,322.34 L66.34,322.05 L66.76,320.92 L67.17,321.02 L67.59,319.95 L68.00,319.28 L68.42,318.93 L68.84,318.46 L69.25,317.71 L69.67,317.87 L70.08,317.03 L70.50,316.84 L70.91,316.42 L71.33,315.75 L71.75,315.94 L72.16,315.55 L72.58,314.77 L72.99,314.41 L73.41,314.34 L73.82,313.60 L74.24,313.13 L74.66,313.48 L75.07,312.83 L75.49,312.38 L75.90,312.56 L76.32,312.51 L76.73,311.71 L77.15,311.78 L77.57,311.78 L77.98,311.93 L78.40,311.78 L78.81,311.13 L79.23,311.01 L79.65,311.38 L80.06,311.40 L80.48,311.07 L80.89,310.81 L81.31,311.42 L81.72,311.01 L82.14,310.86 L82.56,311.05 L82.97,311.41 L83.39,311.41 L83.80,311.71 L84.22,311.66 L84.63,311.34 L85.05,311.52 L85.47,311.32 L85.88,311.71 L86.30,312.35 L86.71,311.79 L87.13,312.57 L87.54,312.66 L87.96,312.54 L88.38,312.49 L88.79,313.45 L89.21,313.08 L89.62,313.17 L90.04,313.17 L90.45,314.17 L90.87,314.28 L91.29,313.81 L91.70,314.07 L92.12,315.07 L92.53,314.59 L92.95,314.83 L93.36,315.41 L93.78,315.54 L94.20,315.80 L94.61,316.51 L95.03,316.27 L95.44,316.66 L95.86,316.97 L96.28,317.47 L96.69,317.67 L97.11,318.02 L97.52,317.74 L97.94,317.95 L98.35,318.78 L98.77,318.47 L99.19,318.64 L99.60,319.43 L100.02,319.52 L100.43,319.53 L100.85,319.67 L101.26,319.89 L101.68,320.02 L102.10,321.10 L102.51,321.05 L102.93,321.48 L103.34,321.34 L103.76,322.08 L104.17,321.58 L104.59,321.89 L105.01,322.61 L105.42,322.68 L105.84,322.55 L106.25,323.03 L106.67,323.65 L107.08,323.22 L107.50,323.66 L107.92,324.06 L108.33,323.70 L108.75,323.88 L109.16,324.51 L109.58,324.93 L109.99,325.13 L110.41,325.16 L110.83,325.23 L111.24,326.20 L111.66,325.97 L112.07,326.33 L112.49,326.85 L112.91,326.62 L113.32,326.65 L113.74,327.57 L114.15,327.10 L114.57,327.68 L114.98,328.28 L115.40,328.18 L115.82,328.14 L116.23,328.65 L116.65,328.89 L117.06,328.90 L117.48,328.96 L117.89,329.38 L118.31,329.44 L118.73,329.96 L119.14,330.00 L119.56,329.85 L119.97,330.81 L120.39,330.70 L120.80,330.87 L121.22,330.74 L121.64,330.68 L122.05,331.14 L122.47,330.99 L122.88,331.70 L123.30,332.02 L123.71,331.48 L124.13,332.16 L124.55,332.02 L124.96,332.05 L125.38,332.57 L125.79,332.91 L126.21,333.13 L126.62,333.24 L127.04,332.87 L127.46,332.78 L127.87,333.20 L128.29,333.81 L128.70,334.02 L129.12,333.67 L129.54,333.91 L129.95,333.77 L130.37,334.13 L130.78,333.93 L131.20,334.67 L131.61,334.22 L132.03,334.82 L132.45,334.77 L132.86,334.71 L133.28,335.30 L133.69,335.05 L134.11,335.31 L134.52,334.79 L134.94,335.39 L135.36,335.76 L135.77,335.10 L136.19,335.70 L136.60,335.51 L137.02,335.78 L137.43,335.75 L137.85,336.00 L138.27,335.64 L138.68,336.37 L139.10,335.77 L139.51,336.41 L139.93,336.34 L140.34,336.68 L140.76,336.02 L141.18,336.49 L141.59,336.75 L142.01,336.82 L142.42,336.36 L142.84,337.15 L143.25,336.91 L143.67,337.13 L144.09,337.22 L144.50,337.49 L144.92,337.31 L145.33,337.02 L145.75,337.55 L146.17,336.93 L146.58,337.41 L147.00,337.36 L147.41,337.16 L147.83,337.63 L148.24,337.87 L148.66,337.93 L149.08,338.02 L149.49,337.33 L149.91,338.12 L150.32,338.21 L150.74,337.68 L151.15,338.29 L151.57,337.52 L151.99,337.99 L152.40,338.27 L152.82,338.23 L153.23,338.02 L153.65,338.38 L154.06,338.47 L154.48,337.85 L154.90,338.64 L155.31,338.05 L155.73,338.76 L156.14,338.72 L156.56,338.03 L156.97,338.05 L157.39,338.43 L157.81,338.87 L158.22,338.99 L158.64,338.21 L159.05,338.54 L159.47,338.95 L159.88,338.41 L160.30,338.31 L160.72,338.96 L161.13,338.68 L161.55,338.72 L161.96,338.51 L162.38,339.20 L162.80,338.80 L163.21,338.58 L163.63,339.13 L164.04,339.12 L164.46,338.62 L164.87,339.13 L165.29,339.27 L165.71,339.42 L166.12,338.68 L166.54,339.36 L166.95,339.11 L167.37,339.05 L167.78,338.80 L168.20,339.37 L168.62,338.84 L169.03,339.58 L169.45,339.38 L169.86,339.07 L170.28,339.16 L170.69,339.01 L171.11,339.36 L171.53,339.42 L171.94,339.82 L172.36,339.57 L172.77,339.53 L173.19,339.70 L173.60,339.62 L174.02,339.50 L174.44,339.06 L174.85,339.64 L175.27,339.84 L175.68,339.23 L176.10,339.86 L176.51,339.78 L176.93,339.69 L177.35,339.68 L177.76,339.34 L178.18,340.01 L178.59,340.07 L179.01,340.10 L179.43,339.88 L179.84,339.38 L180.26,339.78 L180.67,339.88 L181.09,339.84 L181.50,339.39 L181.92,339.43 L182.34,339.41 L182.75,340.01 L183.17,339.49 L183.58,339.53 L184.00,339.83 L184.41,340.18 L184.83,339.61 L185.25,339.69 L185.66,340.13 L186.08,339.47 L186.49,339.68 L186.91,339.79 L187.32,339.65 L187.74,339.54 L188.16,340.32 L188.57,340.12 L188.99,340.29 L189.40,339.57 L189.82,340.05 L190.23,339.81 L190.65,339.84 L191.07,340.23 L191.48,339.67 L191.90,340.09 L192.31,340.13 L192.73,339.61 L193.14,340.17 L193.56,339.81 L193.98,339.90 L194.39,339.70 L194.81,339.85 L195.22,339.95 L195.64,340.30 L196.06,340.23 L196.47,339.95 L196.89,339.87 L197.30,339.81 L197.72,340.32 L198.13,340.13 L198.55,340.11 L198.97,340.26 L199.38,340.28 L199.80,339.94 L200.21,339.88 L200.63,340.09 L201.04,340.42 L201.46,340.45 L201.88,340.27 L202.29,339.87 L202.71,340.08 L203.12,339.72 L203.54,340.20 L203.95,340.13 L204.37,340.19 L204.79,339.92 L205.20,340.00 L205.62,340.17 L206.03,339.76 L206.45,340.20 L206.86,339.79 L207.28,340.00 L207.70,340.23 L208.11,340.22 L208.53,339.96 L208.94,340.02 L209.36,340.52 L209.77,339.79 L210.19,340.11 L210.61,340.11 L211.02,340.02 L211.44,340.25 L211.85,340.01 L212.27,340.20 L212.69,340.21 L213.10,340.23 L213.52,340.55 L213.93,340.24 L214.35,340.16 L214.76,340.01 L215.18,340.28 L215.60,340.12 L216.01,340.19 L216.43,340.21 L216.84,339.99 L217.26,339.90 L217.67,340.33 L218.09,339.87 L218.51,340.09 L218.92,340.17 L219.34,340.22 L219.75,340.23 L220.17,340.16 L220.58,340.05 L221.00,340.28" fill="none" stroke="#b8403e" stroke-width="1.8" stroke-linejoin="round"/>
</g>
<line x1="50.70" y1="340.60" x2="54.70" y2="340.60" stroke="#1a1a1a" stroke-width="1.1" />
<g transform="translate(0 344.40) scale(1 1.1) translate(0 -344.40)"><text x="43.50" y="344.40" font-family='"Liberation Serif", serif' font-size="12.2" text-anchor="end" fill="#111" stroke="#111" stroke-width="0.15" >0</text></g>
<line x1="50.70" y1="318.10" x2="54.70" y2="318.10" stroke="#1a1a1a" stroke-width="1.1" />
<g transform="translate(0 321.90) scale(1 1.1) translate(0 -321.90)"><text x="43.50" y="321.90" font-family='"Liberation Serif", serif' font-size="12.2" text-anchor="end" fill="#111" stroke="#111" stroke-width="0.15" >1000</text></g>
<line x1="50.70" y1="295.60" x2="54.70" y2="295.60" stroke="#1a1a1a" stroke-width="1.1" />
<g transform="translate(0 299.40) scale(1 1.1) translate(0 -299.40)"><text x="43.50" y="299.40" font-family='"Liberation Serif", serif' font-size="12.2" text-anchor="end" fill="#111" stroke="#111" stroke-width="0.15" >2000</text></g>
<line x1="50.70" y1="273.10" x2="54.70" y2="273.10" stroke="#1a1a1a" stroke-width="1.1" />
<g transform="translate(0 276.90) scale(1 1.1) translate(0 -276.90)"><text x="43.50" y="276.90" font-family='"Liberation Serif", serif' font-size="12.2" text-anchor="end" fill="#111" stroke="#111" stroke-width="0.15" >3000</text></g>
<line x1="50.70" y1="250.60" x2="54.70" y2="250.60" stroke="#1a1a1a" stroke-width="1.1" />
<g transform="translate(0 254.40) scale(1 1.1) translate(0 -254.40)"><text x="43.50" y="254.40" font-family='"Liberation Serif", serif' font-size="12.2" text-anchor="end" fill="#111" stroke="#111" stroke-width="0.15" >4000</text></g>
<line x1="50.70" y1="228.10" x2="54.70" y2="228.10" stroke="#1a1a1a" stroke-width="1.1" />
<g transform="translate(0 231.90) scale(1 1.1) translate(0 -231.90)"><text x="43.50" y="231.90" font-family='"Liberation Serif", serif' font-size="12.2" text-anchor="end" fill="#111" stroke="#111" stroke-width="0.15" >5000</text></g>
<line x1="50.70" y1="205.60" x2="54.70" y2="205.60" stroke="#1a1a1a" stroke-width="1.1" />
<g transform="translate(0 209.40) scale(1 1.1) translate(0 -209.40)"><text x="43.50" y="209.40" font-family='"Liberation Serif", serif' font-size="12.2" text-anchor="end" fill="#111" stroke="#111" stroke-width="0.15" >6000</text></g>
<line x1="54.70" y1="340.60" x2="54.70" y2="344.10" stroke="#1a1a1a" stroke-width="1.1" />
<g transform="translate(0 359.30) scale(1 1.1) translate(0 -359.30)"><text x="54.70" y="359.30" font-family='"Liberation Serif", serif' font-size="12.2" text-anchor="middle" fill="#111" stroke="#111" stroke-width="0.15" >430</text></g>
<line x1="75.49" y1="340.60" x2="75.49" y2="344.10" stroke="#1a1a1a" stroke-width="1.1" />
<g transform="translate(0 359.30) scale(1 1.1) translate(0 -359.30)"><text x="75.49" y="359.30" font-family='"Liberation Serif", serif' font-size="12.2" text-anchor="middle" fill="#111" stroke="#111" stroke-width="0.15" >480</text></g>
<line x1="96.28" y1="340.60" x2="96.28" y2="344.10" stroke="#1a1a1a" stroke-width="1.1" />
<g transform="translate(0 359.30) scale(1 1.1) translate(0 -359.30)"><text x="96.28" y="359.30" font-family='"Liberation Serif", serif' font-size="12.2" text-anchor="middle" fill="#111" stroke="#111" stroke-width="0.15" >530</text></g>
<line x1="117.06" y1="340.60" x2="117.06" y2="344.10" stroke="#1a1a1a" stroke-width="1.1" />
<g transform="translate(0 359.30) scale(1 1.1) translate(0 -359.30)"><text x="117.06" y="359.30" font-family='"Liberation Serif", serif' font-size="12.2" text-anchor="middle" fill="#111" stroke="#111" stroke-width="0.15" >580</text></g>
<line x1="137.85" y1="340.60" x2="137.85" y2="344.10" stroke="#1a1a1a" stroke-width="1.1" />
<g transform="translate(0 359.30) scale(1 1.1) translate(0 -359.30)"><text x="137.85" y="359.30" font-family='"Liberation Serif", serif' font-size="12.2" text-anchor="middle" fill="#111" stroke="#111" stroke-width="0.15" >630</text></g>
<line x1="158.64" y1="340.60" x2="158.64" y2="344.10" stroke="#1a1a1a" stroke-width="1.1" />
<g transform="translate(0 359.30) scale(1 1.1) translate(0 -359.30)"><text x="158.64" y="359.30" font-family='"Liberation Serif", serif' font-size="12.2" text-anchor="middle" fill="#111" stroke="#111" stroke-width="0.15" >680</text></g>
<line x1="179.43" y1="340.60" x2="179.43" y2="344.10" stroke="#1a1a1a" stroke-width="1.1" />
<g transform="translate(0 359.30) scale(1 1.1) translate(0 -359.30)"><text x="179.43" y="359.30" font-family='"Liberation Serif", serif' font-size="12.2" text-anchor="middle" fill="#111" stroke="#111" stroke-width="0.15" >730</text></g>
<line x1="200.21" y1="340.60" x2="200.21" y2="344.10" stroke="#1a1a1a" stroke-width="1.1" />
<g transform="translate(0 359.30) scale(1 1.1) translate(0 -359.30)"><text x="200.21" y="359.30" font-family='"Liberation Serif", serif' font-size="12.2" text-anchor="middle" fill="#111" stroke="#111" stroke-width="0.15" >780</text></g>
<line x1="221.00" y1="340.60" x2="221.00" y2="344.10" stroke="#1a1a1a" stroke-width="1.1" />
<g transform="translate(0 359.30) scale(1 1.1) translate(0 -359.30)"><text x="221.00" y="359.30" font-family='"Liberation Serif", serif' font-size="12.2" text-anchor="middle" fill="#111" stroke="#111" stroke-width="0.15" >830</text></g>
<g transform="translate(0 372.80) scale(1 1.1) translate(0 -372.80)"><text x="138.00" y="372.80" font-family='"Liberation Serif", serif' font-size="12.6" text-anchor="middle" fill="#111" stroke="#111" stroke-width="0.15" >Wavelength (nm)</text></g>
<g transform="translate(10.80 0) scale(1.1 1) translate(-10.80 0)"><text x="10.80" y="271.00" font-family='"Liberation Serif", serif' font-size="13" text-anchor="middle" fill="#111" stroke="#111" stroke-width="0.15" transform="rotate(-90 10.8 271)">FL intensity (a.u.)</text></g>
<line x1="158.30" y1="216.70" x2="172.90" y2="216.70" stroke="#3464a8" stroke-width="1.8" />
<g transform="translate(0 220.50) scale(1 1.1) translate(0 -220.50)"><text x="173.70" y="220.50" font-family='"Liberation Serif", serif' font-size="12.2" text-anchor="start" fill="#111" stroke="#111" stroke-width="0.15" >0 µM</text></g>
<line x1="158.30" y1="230.30" x2="172.90" y2="230.30" stroke="#a8c57a" stroke-width="1.8" />
<g transform="translate(0 234.10) scale(1 1.1) translate(0 -234.10)"><text x="173.70" y="234.10" font-family='"Liberation Serif", serif' font-size="12.2" text-anchor="start" fill="#111" stroke="#111" stroke-width="0.15" >0.5 µM</text></g>
<line x1="158.30" y1="243.90" x2="172.90" y2="243.90" stroke="#d4807c" stroke-width="1.8" />
<g transform="translate(0 247.70) scale(1 1.1) translate(0 -247.70)"><text x="173.70" y="247.70" font-family='"Liberation Serif", serif' font-size="12.2" text-anchor="start" fill="#111" stroke="#111" stroke-width="0.15" >1 µM</text></g>
<line x1="158.30" y1="257.50" x2="172.90" y2="257.50" stroke="#8eaedc" stroke-width="1.8" />
<g transform="translate(0 261.30) scale(1 1.1) translate(0 -261.30)"><text x="173.70" y="261.30" font-family='"Liberation Serif", serif' font-size="12.2" text-anchor="start" fill="#111" stroke="#111" stroke-width="0.15" >1.5 µM</text></g>
<line x1="158.30" y1="271.10" x2="172.90" y2="271.10" stroke="#ef8530" stroke-width="1.8" />
<g transform="translate(0 274.90) scale(1 1.1) translate(0 -274.90)"><text x="173.70" y="274.90" font-family='"Liberation Serif", serif' font-size="12.2" text-anchor="start" fill="#111" stroke="#111" stroke-width="0.15" >2 µM</text></g>
<line x1="158.30" y1="284.70" x2="172.90" y2="284.70" stroke="#3c9cbd" stroke-width="1.8" />
<g transform="translate(0 288.50) scale(1 1.1) translate(0 -288.50)"><text x="173.70" y="288.50" font-family='"Liberation Serif", serif' font-size="12.2" text-anchor="start" fill="#111" stroke="#111" stroke-width="0.15" >2.5 µM</text></g>
<line x1="158.30" y1="298.30" x2="172.90" y2="298.30" stroke="#6a4c9c" stroke-width="1.8" />
<g transform="translate(0 302.10) scale(1 1.1) translate(0 -302.10)"><text x="173.70" y="302.10" font-family='"Liberation Serif", serif' font-size="12.2" text-anchor="start" fill="#111" stroke="#111" stroke-width="0.15" >3 µM</text></g>
<line x1="158.30" y1="311.90" x2="172.90" y2="311.90" stroke="#79a23c" stroke-width="1.8" />
<g transform="translate(0 315.70) scale(1 1.1) translate(0 -315.70)"><text x="173.70" y="315.70" font-family='"Liberation Serif", serif' font-size="12.2" text-anchor="start" fill="#111" stroke="#111" stroke-width="0.15" >4 µM</text></g>
<line x1="158.30" y1="325.50" x2="172.90" y2="325.50" stroke="#b8403e" stroke-width="1.8" />
<g transform="translate(0 329.30) scale(1 1.1) translate(0 -329.30)"><text x="173.70" y="329.30" font-family='"Liberation Serif", serif' font-size="12.2" text-anchor="start" fill="#111" stroke="#111" stroke-width="0.15" >5 µM</text></g>
<line x1="138.00" y1="226.20" x2="138.00" y2="295.00" stroke="#111" stroke-width="1.3" />
<path d="M134.8,291 L138,296.5 L141.2,291" fill="none" stroke="#111" stroke-width="1.3"/>
<text x="0.80" y="201.80" font-family='"Liberation Serif", serif' font-size="16" text-anchor="start" fill="#111" font-weight="bold">d</text>
<path d="M262.30,205.20 L441.60,205.20 L441.60,338.80" fill="none" stroke="#222" stroke-width="1.2"/>
<path d="M262.30,205.20 L262.30,338.80 L441.60,338.80" fill="none" stroke="#1a1a1a" stroke-width="1.2"/>
<line x1="258.30" y1="338.80" x2="262.30" y2="338.80" stroke="#1a1a1a" stroke-width="1.1" />
<g transform="translate(0 342.60) scale(1 1.1) translate(0 -342.60)"><text x="253.00" y="342.60" font-family='"Liberation Serif", serif' font-size="12.2" text-anchor="end" fill="#111" stroke="#111" stroke-width="0.15" >0</text></g>
<line x1="262.30" y1="338.80" x2="262.30" y2="342.30" stroke="#1a1a1a" stroke-width="1.1" />
<g transform="translate(0 358.50) scale(1 1.1) translate(0 -358.50)"><text x="262.30" y="358.50" font-family='"Liberation Serif", serif' font-size="12.2" text-anchor="middle" fill="#111" stroke="#111" stroke-width="0.15" >0</text></g>
<line x1="258.30" y1="312.08" x2="262.30" y2="312.08" stroke="#1a1a1a" stroke-width="1.1" />
<g transform="translate(0 315.88) scale(1 1.1) translate(0 -315.88)"><text x="253.00" y="315.88" font-family='"Liberation Serif", serif' font-size="12.2" text-anchor="end" fill="#111" stroke="#111" stroke-width="0.15" >1</text></g>
<line x1="297.40" y1="338.80" x2="297.40" y2="342.30" stroke="#1a1a1a" stroke-width="1.1" />
<g transform="translate(0 358.50) scale(1 1.1) translate(0 -358.50)"><text x="297.40" y="358.50" font-family='"Liberation Serif", serif' font-size="12.2" text-anchor="middle" fill="#111" stroke="#111" stroke-width="0.15" >1</text></g>
<line x1="258.30" y1="285.36" x2="262.30" y2="285.36" stroke="#1a1a1a" stroke-width="1.1" />
<g transform="translate(0 289.16) scale(1 1.1) translate(0 -289.16)"><text x="253.00" y="289.16" font-family='"Liberation Serif", serif' font-size="12.2" text-anchor="end" fill="#111" stroke="#111" stroke-width="0.15" >2</text></g>
<line x1="332.50" y1="338.80" x2="332.50" y2="342.30" stroke="#1a1a1a" stroke-width="1.1" />
<g transform="translate(0 358.50) scale(1 1.1) translate(0 -358.50)"><text x="332.50" y="358.50" font-family='"Liberation Serif", serif' font-size="12.2" text-anchor="middle" fill="#111" stroke="#111" stroke-width="0.15" >2</text></g>
<line x1="258.30" y1="258.64" x2="262.30" y2="258.64" stroke="#1a1a1a" stroke-width="1.1" />
<g transform="translate(0 262.44) scale(1 1.1) translate(0 -262.44)"><text x="253.00" y="262.44" font-family='"Liberation Serif", serif' font-size="12.2" text-anchor="end" fill="#111" stroke="#111" stroke-width="0.15" >3</text></g>
<line x1="367.60" y1="338.80" x2="367.60" y2="342.30" stroke="#1a1a1a" stroke-width="1.1" />
<g transform="translate(0 358.50) scale(1 1.1) translate(0 -358.50)"><text x="367.60" y="358.50" font-family='"Liberation Serif", serif' font-size="12.2" text-anchor="middle" fill="#111" stroke="#111" stroke-width="0.15" >3</text></g>
<line x1="258.30" y1="231.92" x2="262.30" y2="231.92" stroke="#1a1a1a" stroke-width="1.1" />
<g transform="translate(0 235.72) scale(1 1.1) translate(0 -235.72)"><text x="253.00" y="235.72" font-family='"Liberation Serif", serif' font-size="12.2" text-anchor="end" fill="#111" stroke="#111" stroke-width="0.15" >4</text></g>
<line x1="402.70" y1="338.80" x2="402.70" y2="342.30" stroke="#1a1a1a" stroke-width="1.1" />
<g transform="translate(0 358.50) scale(1 1.1) translate(0 -358.50)"><text x="402.70" y="358.50" font-family='"Liberation Serif", serif' font-size="12.2" text-anchor="middle" fill="#111" stroke="#111" stroke-width="0.15" >4</text></g>
<line x1="258.30" y1="205.20" x2="262.30" y2="205.20" stroke="#1a1a1a" stroke-width="1.1" />
<g transform="translate(0 209.00) scale(1 1.1) translate(0 -209.00)"><text x="253.00" y="209.00" font-family='"Liberation Serif", serif' font-size="12.2" text-anchor="end" fill="#111" stroke="#111" stroke-width="0.15" >5</text></g>
<line x1="437.80" y1="338.80" x2="437.80" y2="342.30" stroke="#1a1a1a" stroke-width="1.1" />
<g transform="translate(0 358.50) scale(1 1.1) translate(0 -358.50)"><text x="437.80" y="358.50" font-family='"Liberation Serif", serif' font-size="12.2" text-anchor="middle" fill="#111" stroke="#111" stroke-width="0.15" >5</text></g>
<g transform="translate(0 373.20) scale(1 1.1) translate(0 -373.20)"><text x="354.40" y="373.20" font-family='"Liberation Serif", serif' font-size="12.6" text-anchor="middle" fill="#111" stroke="#111" stroke-width="0.15" >Hg<tspan font-size="8" dy="-4.2">2+</tspan><tspan font-size="1" dy="4.2">&#8203;</tspan> (µM)</text></g>
<g transform="translate(237.40 0) scale(1.1 1) translate(-237.40 0)"><text x="237.40" y="273.00" font-family='"Liberation Serif", serif' font-size="13.4" text-anchor="middle" fill="#111" stroke="#111" stroke-width="0.15" transform="rotate(-90 237.4 273)">I<tspan font-size="8.5" dy="2.7">0</tspan><tspan dy="-2.7">/I</tspan></text></g>
<line x1="261.25" y1="313.90" x2="439.56" y2="232.45" stroke="#404040" stroke-width="0.9" />
<path d="M262.30,309.08 L265.30,312.08 L262.30,315.08 L259.30,312.08Z" fill="#4a7ebb"/>
<path d="M264.06,308.01 L267.06,311.01 L264.06,314.01 L261.06,311.01Z" fill="#4a7ebb"/>
<path d="M265.81,307.21 L268.81,310.21 L265.81,313.21 L262.81,310.21Z" fill="#4a7ebb"/>
<path d="M267.56,306.41 L270.56,309.41 L267.56,312.41 L264.56,309.41Z" fill="#4a7ebb"/>
<path d="M269.32,305.61 L272.32,308.61 L269.32,311.61 L266.32,308.61Z" fill="#4a7ebb"/>
<line x1="279.85" y1="305.67" x2="279.85" y2="307.80" stroke="#111" stroke-width="1.0" />
<line x1="278.25" y1="305.67" x2="281.45" y2="305.67" stroke="#111" stroke-width="1.0" />
<line x1="278.25" y1="307.80" x2="281.45" y2="307.80" stroke="#111" stroke-width="1.0" />
<path d="M279.85,303.74 L282.85,306.74 L279.85,309.74 L276.85,306.74Z" fill="#4a7ebb"/>
<line x1="297.40" y1="299.25" x2="297.40" y2="302.46" stroke="#111" stroke-width="1.0" />
<line x1="295.80" y1="299.25" x2="299.00" y2="299.25" stroke="#111" stroke-width="1.0" />
<line x1="295.80" y1="302.46" x2="299.00" y2="302.46" stroke="#111" stroke-width="1.0" />
<path d="M297.40,297.86 L300.40,300.86 L297.40,303.86 L294.40,300.86Z" fill="#4a7ebb"/>
<line x1="314.95" y1="290.70" x2="314.95" y2="296.05" stroke="#111" stroke-width="1.0" />
<line x1="313.35" y1="290.70" x2="316.55" y2="290.70" stroke="#111" stroke-width="1.0" />
<line x1="313.35" y1="296.05" x2="316.55" y2="296.05" stroke="#111" stroke-width="1.0" />
<path d="M314.95,290.38 L317.95,293.38 L314.95,296.38 L311.95,293.38Z" fill="#4a7ebb"/>
<line x1="332.50" y1="280.02" x2="332.50" y2="286.96" stroke="#111" stroke-width="1.0" />
<line x1="330.90" y1="280.02" x2="334.10" y2="280.02" stroke="#111" stroke-width="1.0" />
<line x1="330.90" y1="286.96" x2="334.10" y2="286.96" stroke="#111" stroke-width="1.0" />
<path d="M332.50,280.49 L335.50,283.49 L332.50,286.49 L329.50,283.49Z" fill="#4a7ebb"/>
<line x1="350.05" y1="269.86" x2="350.05" y2="279.48" stroke="#111" stroke-width="1.0" />
<line x1="348.45" y1="269.86" x2="351.65" y2="269.86" stroke="#111" stroke-width="1.0" />
<line x1="348.45" y1="279.48" x2="351.65" y2="279.48" stroke="#111" stroke-width="1.0" />
<path d="M350.05,271.67 L353.05,274.67 L350.05,277.67 L347.05,274.67Z" fill="#4a7ebb"/>
<line x1="367.60" y1="259.98" x2="367.60" y2="267.99" stroke="#111" stroke-width="1.0" />
<line x1="366.00" y1="259.98" x2="369.20" y2="259.98" stroke="#111" stroke-width="1.0" />
<line x1="366.00" y1="267.99" x2="369.20" y2="267.99" stroke="#111" stroke-width="1.0" />
<path d="M367.60,260.98 L370.60,263.98 L367.60,266.98 L364.60,263.98Z" fill="#4a7ebb"/>
<line x1="402.70" y1="244.48" x2="402.70" y2="254.10" stroke="#111" stroke-width="1.0" />
<line x1="401.10" y1="244.48" x2="404.30" y2="244.48" stroke="#111" stroke-width="1.0" />
<line x1="401.10" y1="254.10" x2="404.30" y2="254.10" stroke="#111" stroke-width="1.0" />
<path d="M402.70,246.29 L405.70,249.29 L402.70,252.29 L399.70,249.29Z" fill="#4a7ebb"/>
<line x1="437.80" y1="219.63" x2="437.80" y2="236.20" stroke="#111" stroke-width="1.0" />
<line x1="436.20" y1="219.63" x2="439.40" y2="219.63" stroke="#111" stroke-width="1.0" />
<line x1="436.20" y1="236.20" x2="439.40" y2="236.20" stroke="#111" stroke-width="1.0" />
<path d="M437.80,224.91 L440.80,227.91 L437.80,230.91 L434.80,227.91Z" fill="#4a7ebb"/>
<g transform="translate(0 247.50) scale(1 1.1) translate(0 -247.50)"><text x="362.00" y="247.50" font-family='"Liberation Serif", serif' font-size="12.8" text-anchor="middle" fill="#111" stroke="#111" stroke-width="0.15" >R² = 0.9908</text></g>
<text x="228.80" y="200.30" font-family='"Liberation Serif", serif' font-size="16" text-anchor="start" fill="#111" font-weight="bold">e</text>
<path d="M509.40,207.00 L668.10,207.00 L668.10,338.80" fill="none" stroke="#6b6b6b" stroke-width="1.4"/>
<path d="M509.40,207.00 L509.40,338.80 L668.10,338.80" fill="none" stroke="#1a1a1a" stroke-width="1.2"/>
<line x1="505.40" y1="338.80" x2="509.40" y2="338.80" stroke="#1a1a1a" stroke-width="1.1" />
<g transform="translate(0 342.60) scale(1 1.1) translate(0 -342.60)"><text x="497.50" y="342.60" font-family='"Liberation Serif", serif' font-size="12.2" text-anchor="end" fill="#111" stroke="#111" stroke-width="0.15" >0</text></g>
<line x1="505.40" y1="316.83" x2="509.40" y2="316.83" stroke="#1a1a1a" stroke-width="1.1" />
<g transform="translate(0 320.63) scale(1 1.1) translate(0 -320.63)"><text x="497.50" y="320.63" font-family='"Liberation Serif", serif' font-size="12.2" text-anchor="end" fill="#111" stroke="#111" stroke-width="0.15" >1000</text></g>
<line x1="505.40" y1="294.87" x2="509.40" y2="294.87" stroke="#1a1a1a" stroke-width="1.1" />
<g transform="translate(0 298.67) scale(1 1.1) translate(0 -298.67)"><text x="497.50" y="298.67" font-family='"Liberation Serif", serif' font-size="12.2" text-anchor="end" fill="#111" stroke="#111" stroke-width="0.15" >2000</text></g>
<line x1="505.40" y1="272.90" x2="509.40" y2="272.90" stroke="#1a1a1a" stroke-width="1.1" />
<g transform="translate(0 276.70) scale(1 1.1) translate(0 -276.70)"><text x="497.50" y="276.70" font-family='"Liberation Serif", serif' font-size="12.2" text-anchor="end" fill="#111" stroke="#111" stroke-width="0.15" >3000</text></g>
<line x1="505.40" y1="250.93" x2="509.40" y2="250.93" stroke="#1a1a1a" stroke-width="1.1" />
<g transform="translate(0 254.73) scale(1 1.1) translate(0 -254.73)"><text x="497.50" y="254.73" font-family='"Liberation Serif", serif' font-size="12.2" text-anchor="end" fill="#111" stroke="#111" stroke-width="0.15" >4000</text></g>
<line x1="505.40" y1="228.97" x2="509.40" y2="228.97" stroke="#1a1a1a" stroke-width="1.1" />
<g transform="translate(0 232.77) scale(1 1.1) translate(0 -232.77)"><text x="497.50" y="232.77" font-family='"Liberation Serif", serif' font-size="12.2" text-anchor="end" fill="#111" stroke="#111" stroke-width="0.15" >5000</text></g>
<line x1="505.40" y1="207.00" x2="509.40" y2="207.00" stroke="#1a1a1a" stroke-width="1.1" />
<g transform="translate(0 210.80) scale(1 1.1) translate(0 -210.80)"><text x="497.50" y="210.80" font-family='"Liberation Serif", serif' font-size="12.2" text-anchor="end" fill="#111" stroke="#111" stroke-width="0.15" >6000</text></g>
<line x1="509.40" y1="338.80" x2="509.40" y2="342.30" stroke="#1a1a1a" stroke-width="1.1" />
<g transform="translate(0 357.50) scale(1 1.1) translate(0 -357.50)"><text x="509.40" y="357.50" font-family='"Liberation Serif", serif' font-size="12.2" text-anchor="middle" fill="#111" stroke="#111" stroke-width="0.15" >0</text></g>
<line x1="532.07" y1="338.80" x2="532.07" y2="342.30" stroke="#1a1a1a" stroke-width="1.1" />
<g transform="translate(0 357.50) scale(1 1.1) translate(0 -357.50)"><text x="532.07" y="357.50" font-family='"Liberation Serif", serif' font-size="12.2" text-anchor="middle" fill="#111" stroke="#111" stroke-width="0.15" >10</text></g>
<line x1="554.74" y1="338.80" x2="554.74" y2="342.30" stroke="#1a1a1a" stroke-width="1.1" />
<g transform="translate(0 357.50) scale(1 1.1) translate(0 -357.50)"><text x="554.74" y="357.50" font-family='"Liberation Serif", serif' font-size="12.2" text-anchor="middle" fill="#111" stroke="#111" stroke-width="0.15" >20</text></g>
<line x1="577.41" y1="338.80" x2="577.41" y2="342.30" stroke="#1a1a1a" stroke-width="1.1" />
<g transform="translate(0 357.50) scale(1 1.1) translate(0 -357.50)"><text x="577.41" y="357.50" font-family='"Liberation Serif", serif' font-size="12.2" text-anchor="middle" fill="#111" stroke="#111" stroke-width="0.15" >30</text></g>
<line x1="600.09" y1="338.80" x2="600.09" y2="342.30" stroke="#1a1a1a" stroke-width="1.1" />
<g transform="translate(0 357.50) scale(1 1.1) translate(0 -357.50)"><text x="600.09" y="357.50" font-family='"Liberation Serif", serif' font-size="12.2" text-anchor="middle" fill="#111" stroke="#111" stroke-width="0.15" >40</text></g>
<line x1="622.76" y1="338.80" x2="622.76" y2="342.30" stroke="#1a1a1a" stroke-width="1.1" />
<g transform="translate(0 357.50) scale(1 1.1) translate(0 -357.50)"><text x="622.76" y="357.50" font-family='"Liberation Serif", serif' font-size="12.2" text-anchor="middle" fill="#111" stroke="#111" stroke-width="0.15" >50</text></g>
<line x1="645.43" y1="338.80" x2="645.43" y2="342.30" stroke="#1a1a1a" stroke-width="1.1" />
<g transform="translate(0 357.50) scale(1 1.1) translate(0 -357.50)"><text x="645.43" y="357.50" font-family='"Liberation Serif", serif' font-size="12.2" text-anchor="middle" fill="#111" stroke="#111" stroke-width="0.15" >60</text></g>
<line x1="668.10" y1="338.80" x2="668.10" y2="342.30" stroke="#1a1a1a" stroke-width="1.1" />
<g transform="translate(0 357.50) scale(1 1.1) translate(0 -357.50)"><text x="668.10" y="357.50" font-family='"Liberation Serif", serif' font-size="12.2" text-anchor="middle" fill="#111" stroke="#111" stroke-width="0.15" >70</text></g>
<g transform="translate(0 373.50) scale(1 1.1) translate(0 -373.50)"><text x="585.00" y="373.50" font-family='"Liberation Serif", serif' font-size="12.6" text-anchor="middle" fill="#111" stroke="#111" stroke-width="0.15" >Time (min)</text></g>
<g transform="translate(460.70 0) scale(1.1 1) translate(-460.70 0)"><text x="460.70" y="272.50" font-family='"Liberation Serif", serif' font-size="13" text-anchor="middle" fill="#111" stroke="#111" stroke-width="0.15" transform="rotate(-90 460.7 272.5)">FL intensity (a.u.)</text></g>
<path d="M509.40,218.03 L509.63,218.38 L509.85,218.77 L510.08,218.11 L510.31,218.33 L510.53,218.89 L510.76,218.93 L510.99,218.45 L511.21,218.30 L511.44,218.16 L511.67,218.16 L511.89,218.26 L512.12,218.24 L512.35,218.55 L512.57,218.27 L512.80,218.46 L513.03,218.67 L513.25,219.06 L513.48,218.70 L513.71,218.20 L513.93,218.37 L514.16,218.55 L514.39,218.44 L514.61,218.27 L514.84,218.78 L515.07,218.35 L515.29,218.66 L515.52,218.37 L515.75,218.86 L515.97,218.21 L516.20,217.97 L516.43,218.16 L516.65,218.10 L516.88,218.00 L517.11,218.24 L517.34,218.58 L517.56,218.24 L517.79,217.88 L518.02,218.11 L518.24,218.16 L518.47,217.68 L518.70,218.20 L518.92,217.62 L519.15,217.50 L519.38,218.35 L519.60,218.04 L519.83,218.08 L520.06,218.27 L520.28,217.81 L520.51,218.21 L520.74,218.24 L520.96,218.26 L521.19,218.08 L521.42,218.14 L521.64,218.41 L521.87,218.24 L522.10,217.93 L522.32,217.92 L522.55,218.39 L522.78,218.25 L523.00,218.13 L523.23,217.77 L523.46,217.79 L523.68,218.05 L523.91,218.46 L524.14,218.46 L524.36,218.66 L524.59,218.80 L524.82,218.21 L525.04,218.44 L525.27,218.67 L525.50,218.85 L525.72,218.75 L525.95,218.32 L526.18,218.25 L526.40,218.50 L526.63,217.97 L526.86,218.22 L527.08,218.54 L527.31,218.51 L527.54,217.44 L527.76,217.34 L527.99,217.58 L528.22,217.58 L528.44,216.24 L528.67,215.22 L528.90,214.75 L529.12,213.78 L529.35,212.47 L529.58,212.53 L529.80,211.69 L530.03,211.90 L530.26,211.74 L530.48,211.24 L530.71,211.90 L530.94,211.51 L531.16,211.88 L531.39,213.54 L531.62,214.81 L531.84,217.57 L532.07,219.57 L532.30,222.44 L532.52,224.70 L532.75,226.42 L532.98,228.32 L533.20,228.60 L533.43,229.27 L533.66,230.24 L533.89,231.20 L534.11,231.73 L534.34,231.76 L534.57,232.66 L534.79,233.17 L535.02,232.71 L535.25,233.52 L535.47,233.65 L535.70,234.52 L535.93,234.50 L536.15,234.88 L536.38,234.60 L536.61,235.58 L536.83,235.10 L537.06,235.98 L537.29,235.54 L537.51,236.05 L537.74,236.50 L537.97,235.97 L538.19,236.54 L538.42,236.02 L538.65,236.25 L538.87,236.45 L539.10,236.44 L539.33,236.80 L539.55,237.38 L539.78,237.42 L540.01,237.50 L540.23,237.39 L540.46,236.91 L540.69,237.10 L540.91,237.41 L541.14,237.52 L541.37,237.24 L541.59,237.65 L541.82,237.21 L542.05,237.50 L542.27,237.95 L542.50,237.41 L542.73,238.12 L542.95,237.65 L543.18,237.75 L543.41,238.22 L543.63,237.90 L543.86,237.66 L544.09,237.89 L544.31,238.38 L544.54,238.24 L544.77,238.22 L544.99,237.81 L545.22,238.61 L545.45,237.80 L545.67,237.85 L545.90,237.98 L546.13,237.90 L546.35,238.75 L546.58,238.31 L546.81,238.00 L547.03,238.02 L547.26,238.05 L547.49,238.43 L547.71,238.76 L547.94,238.87 L548.17,238.54 L548.39,238.72 L548.62,238.16 L548.85,238.36 L549.08,238.86 L549.30,238.53 L549.53,238.80 L549.76,239.16 L549.98,239.05 L550.21,238.37 L550.44,238.74 L550.66,238.64 L550.89,239.05 L551.12,238.73 L551.34,239.27 L551.57,239.02 L551.80,239.34 L552.02,238.53 L552.25,238.54 L552.48,238.96 L552.70,238.94 L552.93,238.65 L553.16,238.88 L553.38,239.19 L553.61,238.55 L553.84,239.43 L554.06,238.96 L554.29,239.16 L554.52,239.09 L554.74,238.97 L554.97,239.13 L555.20,239.32 L555.42,239.07 L555.65,238.70 L555.88,238.95 L556.10,238.88 L556.33,238.71 L556.56,238.92 L556.78,238.88 L557.01,238.86 L557.24,238.69 L557.46,239.03 L557.69,239.57 L557.92,239.18 L558.14,239.42 L558.37,238.94 L558.60,238.70 L558.82,238.67 L559.05,239.29 L559.28,239.26 L559.50,238.39 L559.73,238.26 L559.96,238.55 L560.18,237.60 L560.41,236.62 L560.64,236.20 L560.86,236.69 L561.09,236.12 L561.32,235.51 L561.54,235.92 L561.77,235.84 L562.00,235.36 L562.22,235.64 L562.45,235.59 L562.68,235.47 L562.90,235.37 L563.13,235.93 L563.36,235.92 L563.58,236.67 L563.81,237.08 L564.04,238.05 L564.26,238.77 L564.49,240.43 L564.72,241.73 L564.94,243.10 L565.17,244.78 L565.40,246.89 L565.63,247.86 L565.85,249.69 L566.08,251.09 L566.31,252.77 L566.53,254.29 L566.76,255.98 L566.99,256.50 L567.21,257.38 L567.44,258.25 L567.67,258.54 L567.89,259.13 L568.12,259.46 L568.35,260.69 L568.57,261.17 L568.80,261.22 L569.03,261.24 L569.25,261.51 L569.48,261.77 L569.71,262.28 L569.93,262.56 L570.16,262.59 L570.39,262.45 L570.61,262.76 L570.84,263.53 L571.07,263.82 L571.29,263.81 L571.52,263.75 L571.75,263.60 L571.97,264.05 L572.20,263.71 L572.43,263.93 L572.65,264.30 L572.88,264.61 L573.11,264.76 L573.33,264.59 L573.56,264.43 L573.79,264.93 L574.01,264.60 L574.24,265.30 L574.47,264.83 L574.69,265.05 L574.92,265.53 L575.15,265.02 L575.37,265.58 L575.60,265.88 L575.83,265.66 L576.05,265.18 L576.28,265.79 L576.51,265.80 L576.73,265.73 L576.96,265.47 L577.19,265.94 L577.41,265.52 L577.64,266.03 L577.87,266.08 L578.09,266.09 L578.32,265.85 L578.55,266.40 L578.77,266.39 L579.00,266.13 L579.23,266.05 L579.45,265.96 L579.68,266.50 L579.91,266.34 L580.13,266.05 L580.36,266.95 L580.59,266.27 L580.82,266.63 L581.04,266.36 L581.27,267.14 L581.50,267.08 L581.72,267.04 L581.95,266.91 L582.18,266.68 L582.40,266.68 L582.63,266.92 L582.86,266.68 L583.08,266.76 L583.31,266.95 L583.54,266.59 L583.76,266.69 L583.99,267.07 L584.22,266.93 L584.44,266.72 L584.67,267.09 L584.90,267.24 L585.12,267.56 L585.35,267.35 L585.58,267.37 L585.80,267.38 L586.03,267.64 L586.26,267.53 L586.48,266.74 L586.71,267.46 L586.94,267.22 L587.16,267.71 L587.39,266.88 L587.62,266.90 L587.84,267.34 L588.07,267.74 L588.30,267.67 L588.52,267.09 L588.75,267.65 L588.98,267.60 L589.20,267.16 L589.43,266.97 L589.66,266.88 L589.88,267.33 L590.11,266.92 L590.34,267.31 L590.56,267.30 L590.79,267.10 L591.02,267.01 L591.24,267.33 L591.47,267.11 L591.70,266.75 L591.92,266.99 L592.15,267.14 L592.38,266.54 L592.60,266.64 L592.83,266.69 L593.06,265.72 L593.28,265.31 L593.51,264.29 L593.74,263.76 L593.96,264.16 L594.19,263.49 L594.42,263.82 L594.64,262.98 L594.87,263.58 L595.10,263.48 L595.32,263.77 L595.55,263.45 L595.78,264.01 L596.00,264.70 L596.23,265.23 L596.46,267.83 L596.68,269.24 L596.91,271.35 L597.14,273.34 L597.37,275.09 L597.59,275.89 L597.82,277.68 L598.05,278.22 L598.27,278.77 L598.50,279.18 L598.73,280.52 L598.95,280.25 L599.18,280.58 L599.41,281.56 L599.63,281.33 L599.86,281.85 L600.09,281.55 L600.31,282.16 L600.54,282.14 L600.77,282.75 L600.99,282.78 L601.22,282.82 L601.45,282.31 L601.67,282.52 L601.90,282.65 L602.13,283.04 L602.35,282.79 L602.58,283.11 L602.81,282.83 L603.03,282.89 L603.26,282.89 L603.49,283.28 L603.71,283.82 L603.94,282.95 L604.17,283.54 L604.39,283.81 L604.62,283.16 L604.85,283.28 L605.07,283.15 L605.30,283.24 L605.53,284.11 L605.75,283.44 L605.98,284.02 L606.21,283.65 L606.43,283.60 L606.66,283.71 L606.89,284.14 L607.11,283.87 L607.34,283.42 L607.57,283.73 L607.79,283.47 L608.02,284.43 L608.25,284.43 L608.47,283.75 L608.70,284.26 L608.93,284.30 L609.15,283.86 L609.38,284.13 L609.61,284.33 L609.83,284.60 L610.06,284.52 L610.29,284.51 L610.51,284.29 L610.74,284.21 L610.97,284.74 L611.19,284.71 L611.42,284.25 L611.65,284.60 L611.87,284.78 L612.10,284.85 L612.33,284.49 L612.56,284.93 L612.78,284.59 L613.01,284.89 L613.24,284.45 L613.46,284.22 L613.69,284.73 L613.92,284.85 L614.14,284.73 L614.37,285.04 L614.60,284.91 L614.82,284.72 L615.05,284.77 L615.28,285.22 L615.50,285.26 L615.73,284.67 L615.96,284.62 L616.18,285.06 L616.41,285.45 L616.64,285.22 L616.86,284.97 L617.09,285.12 L617.32,285.41 L617.54,285.53 L617.77,285.17 L618.00,285.00 L618.22,285.61 L618.45,285.53 L618.68,284.83 L618.90,284.96 L619.13,285.09 L619.36,285.36 L619.58,285.38 L619.81,285.70 L620.04,285.24 L620.26,285.73 L620.49,285.66 L620.72,285.47 L620.94,285.78 L621.17,285.50 L621.40,285.60 L621.62,285.18 L621.85,285.84 L622.08,285.93 L622.30,286.09 L622.53,285.55 L622.76,285.65 L622.98,286.14 L623.21,285.78 L623.44,285.62 L623.66,285.71 L623.89,286.21 L624.12,285.56 L624.34,285.70 L624.57,286.02 L624.80,285.87 L625.02,285.69 L625.25,285.80 L625.48,285.39 L625.70,284.54 L625.93,284.15 L626.16,282.36 L626.38,281.92 L626.61,281.05 L626.84,281.49 L627.06,280.56 L627.29,280.62 L627.52,280.23 L627.74,280.11 L627.97,280.23 L628.20,280.49 L628.42,280.97 L628.65,280.69 L628.88,281.23 L629.11,281.81 L629.33,283.45 L629.56,285.31 L629.79,287.42 L630.01,290.26 L630.24,291.15 L630.47,292.70 L630.69,294.06 L630.92,294.78 L631.15,294.67 L631.37,295.98 L631.60,295.86 L631.83,296.48 L632.05,296.34 L632.28,297.09 L632.51,296.68 L632.73,297.61 L632.96,297.67 L633.19,297.87 L633.41,297.37 L633.64,298.10 L633.87,297.45 L634.09,297.48 L634.32,298.09 L634.55,297.96 L634.77,297.74 L635.00,297.77 L635.23,298.48 L635.45,297.86 L635.68,298.07 L635.91,298.42 L636.13,298.38 L636.36,298.14 L636.59,298.33 L636.81,298.77 L637.04,298.10 L637.27,298.25 L637.49,298.53 L637.72,298.31 L637.95,298.89 L638.17,298.48 L638.40,298.87 L638.63,298.34 L638.85,299.20 L639.08,298.86 L639.31,298.71 L639.53,299.34 L639.76,298.98 L639.99,299.19 L640.21,298.97 L640.44,298.88 L640.67,299.32 L640.89,299.26 L641.12,299.24 L641.35,299.03 L641.57,299.01 L641.80,299.34 L642.03,299.43 L642.25,299.41 L642.48,299.13 L642.71,299.22 L642.93,299.31 L643.16,299.51 L643.39,299.04 L643.61,299.30 L643.84,299.68 L644.07,299.38 L644.30,298.94 L644.52,299.13 L644.75,299.90 L644.98,299.21 L645.20,299.82 L645.43,299.62 L645.66,299.98 L645.88,299.61 L646.11,299.87 L646.34,299.47 L646.56,299.42 L646.79,299.92 L647.02,299.81 L647.24,299.14 L647.47,300.07 L647.70,299.51 L647.92,299.48 L648.15,299.60 L648.38,299.75 L648.60,299.49 L648.83,299.70 L649.06,299.96 L649.28,299.37 L649.51,299.94 L649.74,299.61 L649.96,299.61 L650.19,299.38 L650.42,299.78 L650.64,299.76 L650.87,299.89 L651.10,299.36 L651.32,299.88 L651.55,299.44 L651.78,300.07 L652.00,300.18 L652.23,300.19 L652.46,300.37 L652.68,300.16 L652.91,299.78 L653.14,300.13 L653.36,300.09 L653.59,299.92 L653.82,300.06 L654.04,300.36 L654.27,300.47 L654.50,299.95 L654.72,299.76 L654.95,300.25 L655.18,300.00 L655.40,300.31 L655.63,300.11 L655.86,299.96 L656.08,300.23 L656.31,299.75 L656.54,299.67 L656.76,300.54 L656.99,299.98 L657.22,300.38 L657.44,299.80 L657.67,299.79 L657.90,299.95 L658.12,300.31 L658.35,299.84 L658.58,300.69 L658.80,300.64 L659.03,300.63 L659.26,300.28 L659.48,300.50 L659.71,300.42 L659.94,300.27 L660.16,299.99 L660.39,300.03 L660.62,300.55 L660.85,300.15 L661.07,300.30 L661.30,300.26 L661.53,300.88 L661.75,300.42 L661.98,300.78 L662.21,301.00 L662.43,300.36 L662.66,300.91 L662.89,301.09 L663.11,300.20 L663.34,300.68 L663.57,300.73 L663.79,300.57 L664.02,301.19 L664.25,301.11 L664.47,301.08 L664.70,300.83" fill="none" stroke="#4a7ebb" stroke-width="1.6" stroke-linejoin="round"/>
<g transform="translate(0 229.80) scale(1 1.1) translate(0 -229.80)"><text x="509.50" y="229.80" font-family='"Liberation Sans", sans-serif' font-size="10.7" text-anchor="start" fill="#111" stroke="#111" stroke-width="0.15" >0 µM</text></g>
<g transform="translate(0 250.00) scale(1 1.1) translate(0 -250.00)"><text x="528.00" y="250.00" font-family='"Liberation Sans", sans-serif' font-size="10.7" text-anchor="start" fill="#111" stroke="#111" stroke-width="0.15" >0.5 µM</text></g>
<g transform="translate(0 281.30) scale(1 1.1) translate(0 -281.30)"><text x="560.80" y="281.30" font-family='"Liberation Sans", sans-serif' font-size="10.7" text-anchor="start" fill="#111" stroke="#111" stroke-width="0.15" >1.5 µM</text></g>
<g transform="translate(0 301.60) scale(1 1.1) translate(0 -301.60)"><text x="592.00" y="301.60" font-family='"Liberation Sans", sans-serif' font-size="10.7" text-anchor="start" fill="#111" stroke="#111" stroke-width="0.15" >2.5µM</text></g>
<g transform="translate(0 317.50) scale(1 1.1) translate(0 -317.50)"><text x="635.60" y="317.50" font-family='"Liberation Sans", sans-serif' font-size="10.7" text-anchor="start" fill="#111" stroke="#111" stroke-width="0.15" >4 µM</text></g>
<text x="452.80" y="201.20" font-family='"Liberation Serif", serif' font-size="16" text-anchor="start" fill="#111" font-weight="bold">f</text>
</svg></body></html>
